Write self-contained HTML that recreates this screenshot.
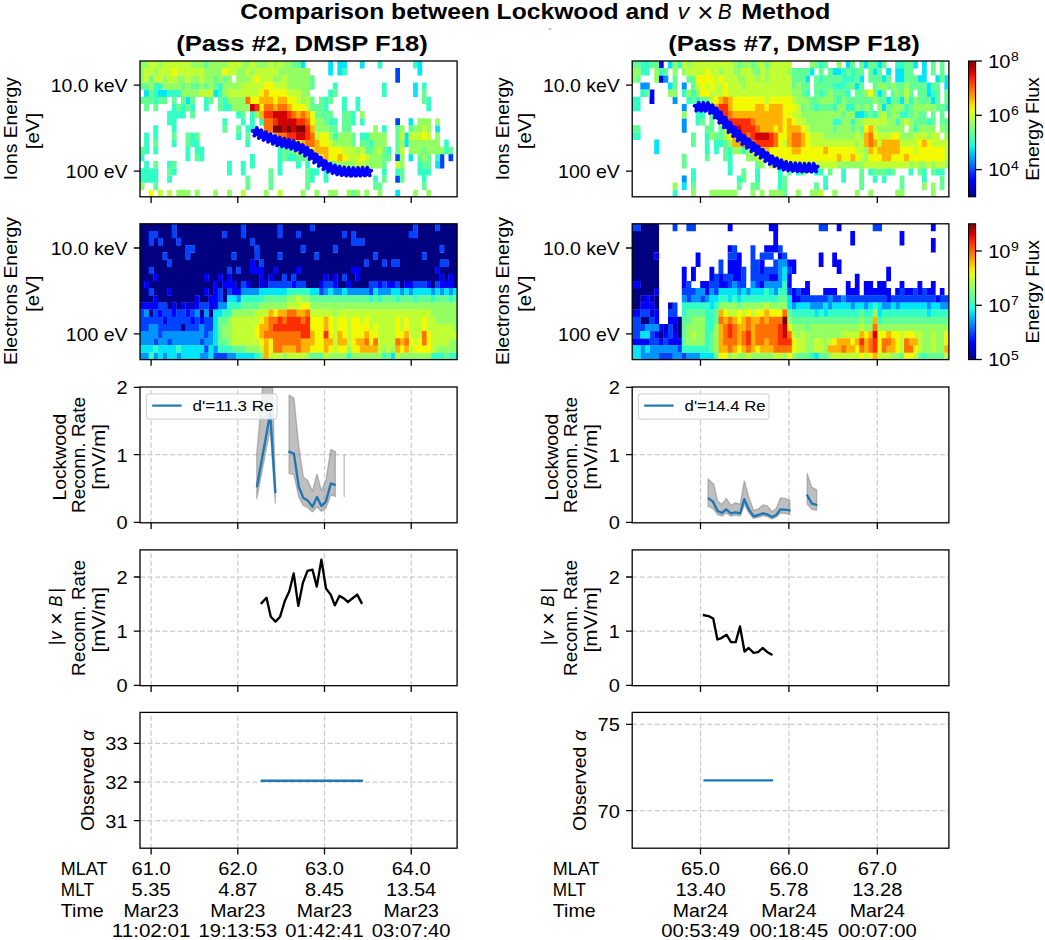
<!DOCTYPE html>
<html><head><meta charset="utf-8"><title>Comparison between Lockwood and v x B Method</title>
<style>html,body{margin:0;padding:0;background:#fff}svg{display:block}text{font-family:"Liberation Sans",sans-serif}</style></head><body>
<svg width="1045" height="940" viewBox="0 0 1045 940">
<defs>
<filter id="bl" x="-2%" y="-5%" width="104%" height="110%"><feGaussianBlur stdDeviation="0.6"/></filter>
<linearGradient id="jet" x1="0" y1="0" x2="0" y2="1"><stop offset="0.0000" stop-color="#800000"/><stop offset="0.0417" stop-color="#b00000"/><stop offset="0.0833" stop-color="#e00000"/><stop offset="0.1250" stop-color="#ff2100"/><stop offset="0.1667" stop-color="#ff4800"/><stop offset="0.2083" stop-color="#ff7000"/><stop offset="0.2500" stop-color="#ff9700"/><stop offset="0.2917" stop-color="#ffbe00"/><stop offset="0.3333" stop-color="#ffe600"/><stop offset="0.3750" stop-color="#e2ff15"/><stop offset="0.4167" stop-color="#c0ff37"/><stop offset="0.4583" stop-color="#9eff59"/><stop offset="0.5000" stop-color="#7bff7b"/><stop offset="0.5417" stop-color="#59ff9e"/><stop offset="0.5833" stop-color="#37ffc0"/><stop offset="0.6250" stop-color="#15ffe2"/><stop offset="0.6667" stop-color="#00d5ff"/><stop offset="0.7083" stop-color="#00aaff"/><stop offset="0.7500" stop-color="#0080ff"/><stop offset="0.7917" stop-color="#0055ff"/><stop offset="0.8333" stop-color="#002aff"/><stop offset="0.8750" stop-color="#0000ff"/><stop offset="0.9167" stop-color="#0000e0"/><stop offset="0.9583" stop-color="#0000b0"/><stop offset="1.0000" stop-color="#000080"/></linearGradient>
<clipPath id="cL0"><rect x="140.0" y="61.0" width="317.1" height="135.8"/></clipPath>
<clipPath id="cL1"><rect x="140.0" y="223.8" width="317.1" height="135.8"/></clipPath>
<clipPath id="cL2"><rect x="140.0" y="387.0" width="317.1" height="135.8"/></clipPath>
<clipPath id="cL3"><rect x="140.0" y="549.9" width="317.1" height="135.8"/></clipPath>
<clipPath id="cL4"><rect x="140.0" y="712.4" width="317.1" height="135.8"/></clipPath>
<clipPath id="cR0"><rect x="632.2" y="61.0" width="316.7" height="135.8"/></clipPath>
<clipPath id="cR1"><rect x="632.2" y="223.8" width="316.7" height="135.8"/></clipPath>
<clipPath id="cR2"><rect x="632.2" y="387.0" width="316.7" height="135.8"/></clipPath>
<clipPath id="cR3"><rect x="632.2" y="549.9" width="316.7" height="135.8"/></clipPath>
<clipPath id="cR4"><rect x="632.2" y="712.4" width="316.7" height="135.8"/></clipPath>
</defs>
<rect width="1045" height="940" fill="#fff"/>
<text x="240.30" y="19.30" font-size="22.26" text-anchor="start" textLength="429.00" lengthAdjust="spacingAndGlyphs" fill="#000" font-weight="bold">Comparison between Lockwood and</text>
<text x="677.62" y="19.30" font-size="22.26" font-style="italic" textLength="11.84" lengthAdjust="spacingAndGlyphs">v</text>
<text x="697.39" y="21.90" font-size="27.70" textLength="16.20" lengthAdjust="spacingAndGlyphs">×</text>
<text x="717.67" y="19.30" font-size="22.26" font-style="italic" textLength="13.94" lengthAdjust="spacingAndGlyphs">B</text>
<text x="741.20" y="19.30" font-size="22.26" text-anchor="start" textLength="89.20" lengthAdjust="spacingAndGlyphs" fill="#000" font-weight="bold">Method</text>
<rect x="548.5" y="28.6" width="3" height="1" fill="#999"/>
<text x="302.00" y="51.20" font-size="22.26" text-anchor="middle" textLength="251.50" lengthAdjust="spacingAndGlyphs" fill="#000" font-weight="bold">(Pass #2, DMSP F18)</text>
<text x="794.00" y="51.20" font-size="22.26" text-anchor="middle" textLength="251.50" lengthAdjust="spacingAndGlyphs" fill="#000" font-weight="bold">(Pass #7, DMSP F18)</text>
<g clip-path="url(#cL0)" filter="url(#bl)">
<path fill="#0042ff" d="M395.3 68.1h4.7v7.4h-4.7zM395.3 75.3h4.7v7.4h-4.7zM395.3 118.2h4.7v7.4h-4.7zM395.3 153.9h4.7v7.4h-4.7zM439.6 153.9h4.7v7.4h-4.7zM448.5 153.9h4.7v7.4h-4.7zM439.6 161.1h4.7v7.4h-4.7zM395.3 175.4h4.7v7.4h-4.7z"/>
<path fill="#00e5f7" d="M300.6 61.0h4.9v7.4h-4.9zM328.2 61.0h4.9v7.4h-4.9zM337.4 61.0h9.5v7.4h-9.5zM359.9 61.0h4.7v7.4h-4.7zM417.5 61.0h4.7v7.4h-4.7zM328.2 68.1h4.9v7.4h-4.9zM337.4 68.1h4.9v7.4h-4.9zM417.5 68.1h4.7v7.4h-4.7zM413.1 82.4h4.7v7.4h-4.7zM144.1 89.6h4.9v7.4h-4.9zM157.9 89.6h9.5v7.4h-9.5zM213.1 89.6h4.9v7.4h-4.9zM413.1 89.6h4.7v7.4h-4.7zM185.5 96.7h4.9v7.4h-4.9zM408.6 118.2h4.7v7.4h-4.7zM435.2 125.3h4.7v7.4h-4.7zM404.2 132.5h4.7v7.4h-4.7zM404.2 139.6h4.7v7.4h-4.7zM408.6 153.9h4.7v7.4h-4.7zM435.2 161.1h4.7v7.4h-4.7zM395.3 189.7h4.7v7.4h-4.7z"/>
<path fill="#31ffc5" d="M377.6 61.0h4.7v7.4h-4.7zM413.1 61.0h4.7v7.4h-4.7zM342.0 68.1h4.9v7.4h-4.9zM153.3 82.4h9.5v7.4h-9.5zM217.8 82.4h4.9v7.4h-4.9zM332.8 82.4h4.9v7.4h-4.9zM382.0 82.4h4.7v7.4h-4.7zM421.9 82.4h4.7v7.4h-4.7zM153.3 89.6h4.9v7.4h-4.9zM167.1 89.6h14.1v7.4h-14.1zM217.8 89.6h4.9v7.4h-4.9zM328.2 89.6h4.9v7.4h-4.9zM382.0 89.6h4.7v7.4h-4.7zM153.3 96.7h4.9v7.4h-4.9zM203.9 96.7h4.9v7.4h-4.9zM222.4 96.7h4.9v7.4h-4.9zM323.6 96.7h4.9v7.4h-4.9zM342.0 96.7h4.9v7.4h-4.9zM355.5 96.7h4.7v7.4h-4.7zM426.3 96.7h4.7v7.4h-4.7zM171.7 103.9h4.9v7.4h-4.9zM180.9 103.9h4.9v7.4h-4.9zM190.1 103.9h4.9v7.4h-4.9zM203.9 103.9h4.9v7.4h-4.9zM222.4 103.9h9.5v7.4h-9.5zM323.6 103.9h4.9v7.4h-4.9zM342.0 103.9h4.9v7.4h-4.9zM355.5 103.9h4.7v7.4h-4.7zM426.3 103.9h4.7v7.4h-4.7zM167.1 111.0h18.7v7.4h-18.7zM236.2 111.0h4.9v7.4h-4.9zM250.0 111.0h4.9v7.4h-4.9zM351.0 111.0h4.7v7.4h-4.7zM167.1 118.2h9.5v7.4h-9.5zM222.4 118.2h4.9v7.4h-4.9zM240.8 118.2h4.9v7.4h-4.9zM250.0 118.2h4.9v7.4h-4.9zM259.2 118.2h4.9v7.4h-4.9zM328.2 118.2h9.5v7.4h-9.5zM351.0 118.2h4.7v7.4h-4.7zM359.9 118.2h4.7v7.4h-4.7zM153.3 125.3h4.9v7.4h-4.9zM171.7 125.3h4.9v7.4h-4.9zM245.4 125.3h9.5v7.4h-9.5zM382.0 125.3h4.7v7.4h-4.7zM144.1 132.5h4.9v7.4h-4.9zM153.3 132.5h4.9v7.4h-4.9zM190.1 132.5h4.9v7.4h-4.9zM236.2 132.5h4.9v7.4h-4.9zM332.8 132.5h4.9v7.4h-4.9zM359.9 132.5h9.2v7.4h-9.2zM144.1 139.6h4.9v7.4h-4.9zM171.7 139.6h4.9v7.4h-4.9zM190.1 139.6h9.5v7.4h-9.5zM245.4 139.6h4.9v7.4h-4.9zM368.8 139.6h4.7v7.4h-4.7zM444.1 139.6h4.7v7.4h-4.7zM144.1 146.8h4.9v7.4h-4.9zM153.3 146.8h4.9v7.4h-4.9zM185.5 146.8h4.9v7.4h-4.9zM194.7 146.8h9.5v7.4h-9.5zM277.6 146.8h4.9v7.4h-4.9zM386.5 146.8h4.7v7.4h-4.7zM444.1 146.8h4.7v7.4h-4.7zM139.5 153.9h4.9v7.4h-4.9zM185.5 153.9h4.9v7.4h-4.9zM199.3 153.9h4.9v7.4h-4.9zM250.0 153.9h4.9v7.4h-4.9zM277.6 153.9h4.9v7.4h-4.9zM286.8 153.9h9.5v7.4h-9.5zM435.2 153.9h4.7v7.4h-4.7zM144.1 161.1h4.9v7.4h-4.9zM167.1 161.1h4.9v7.4h-4.9zM227.0 161.1h4.9v7.4h-4.9zM240.8 161.1h4.9v7.4h-4.9zM250.0 161.1h4.9v7.4h-4.9zM277.6 161.1h4.9v7.4h-4.9zM296.0 161.1h4.9v7.4h-4.9zM305.2 161.1h4.9v7.4h-4.9zM328.2 161.1h4.9v7.4h-4.9zM417.5 161.1h4.7v7.4h-4.7zM139.5 168.2h18.7v7.4h-18.7zM171.7 168.2h4.9v7.4h-4.9zM227.0 168.2h4.9v7.4h-4.9zM240.8 168.2h4.9v7.4h-4.9zM277.6 168.2h4.9v7.4h-4.9zM309.8 168.2h9.5v7.4h-9.5zM323.6 168.2h4.9v7.4h-4.9zM382.0 168.2h4.7v7.4h-4.7zM395.3 168.2h4.7v7.4h-4.7zM417.5 168.2h13.6v7.4h-13.6zM139.5 175.4h18.7v7.4h-18.7zM167.1 175.4h4.9v7.4h-4.9zM309.8 175.4h4.9v7.4h-4.9zM323.6 175.4h4.9v7.4h-4.9zM373.2 175.4h4.7v7.4h-4.7zM421.9 175.4h4.7v7.4h-4.7z"/>
<path fill="#63ff94" d="M203.9 61.0h4.9v7.4h-4.9zM291.4 61.0h9.5v7.4h-9.5zM148.7 75.3h4.9v7.4h-4.9zM213.1 75.3h4.9v7.4h-4.9zM222.4 75.3h4.9v7.4h-4.9zM309.8 75.3h4.9v7.4h-4.9zM139.5 82.4h9.5v7.4h-9.5zM180.9 82.4h4.9v7.4h-4.9zM190.1 82.4h9.5v7.4h-9.5zM203.9 82.4h4.9v7.4h-4.9zM213.1 82.4h4.9v7.4h-4.9zM309.8 82.4h4.9v7.4h-4.9zM148.7 89.6h4.9v7.4h-4.9zM332.8 89.6h4.9v7.4h-4.9zM421.9 89.6h4.7v7.4h-4.7zM139.5 96.7h14.1v7.4h-14.1zM157.9 96.7h9.5v7.4h-9.5zM171.7 96.7h4.9v7.4h-4.9zM180.9 96.7h4.9v7.4h-4.9zM190.1 96.7h4.9v7.4h-4.9zM208.5 96.7h4.9v7.4h-4.9zM217.8 96.7h4.9v7.4h-4.9zM309.8 96.7h4.9v7.4h-4.9zM319.0 96.7h4.9v7.4h-4.9zM328.2 96.7h4.9v7.4h-4.9zM421.9 96.7h4.7v7.4h-4.7zM144.1 103.9h4.9v7.4h-4.9zM153.3 103.9h4.9v7.4h-4.9zM176.3 103.9h4.9v7.4h-4.9zM185.5 103.9h4.9v7.4h-4.9zM217.8 103.9h4.9v7.4h-4.9zM309.8 103.9h14.1v7.4h-14.1zM190.1 111.0h4.9v7.4h-4.9zM240.8 111.0h4.9v7.4h-4.9zM314.4 111.0h18.7v7.4h-18.7zM342.0 111.0h9.3v7.4h-9.3zM323.6 118.2h4.9v7.4h-4.9zM342.0 118.2h9.3v7.4h-9.3zM222.4 125.3h4.9v7.4h-4.9zM236.2 125.3h4.9v7.4h-4.9zM328.2 125.3h9.5v7.4h-9.5zM342.0 125.3h9.3v7.4h-9.3zM395.3 125.3h4.7v7.4h-4.7zM408.6 125.3h4.7v7.4h-4.7zM171.7 132.5h4.9v7.4h-4.9zM185.5 132.5h4.9v7.4h-4.9zM194.7 132.5h4.9v7.4h-4.9zM245.4 132.5h4.9v7.4h-4.9zM351.0 132.5h4.7v7.4h-4.7zM395.3 132.5h4.7v7.4h-4.7zM153.3 139.6h4.9v7.4h-4.9zM185.5 139.6h4.9v7.4h-4.9zM351.0 139.6h4.7v7.4h-4.7zM359.9 139.6h9.2v7.4h-9.2zM395.3 139.6h4.7v7.4h-4.7zM139.5 146.8h4.9v7.4h-4.9zM282.2 146.8h14.1v7.4h-14.1zM364.3 146.8h9.2v7.4h-9.2zM382.0 146.8h4.7v7.4h-4.7zM395.3 146.8h4.7v7.4h-4.7zM421.9 146.8h4.7v7.4h-4.7zM448.5 146.8h4.7v7.4h-4.7zM194.7 153.9h4.9v7.4h-4.9zM282.2 153.9h4.9v7.4h-4.9zM296.0 153.9h9.5v7.4h-9.5zM382.0 153.9h9.2v7.4h-9.2zM417.5 153.9h4.7v7.4h-4.7zM426.3 153.9h4.7v7.4h-4.7zM153.3 161.1h4.9v7.4h-4.9zM171.7 161.1h4.9v7.4h-4.9zM382.0 161.1h4.7v7.4h-4.7zM421.9 161.1h9.2v7.4h-9.2zM167.1 168.2h4.9v7.4h-4.9zM268.4 168.2h4.9v7.4h-4.9zM305.2 168.2h4.9v7.4h-4.9zM399.8 168.2h4.7v7.4h-4.7zM245.4 175.4h4.9v7.4h-4.9zM268.4 175.4h4.9v7.4h-4.9zM305.2 175.4h4.9v7.4h-4.9zM382.0 175.4h4.7v7.4h-4.7zM399.8 175.4h4.7v7.4h-4.7zM153.3 182.5h4.9v7.4h-4.9zM245.4 182.5h4.9v7.4h-4.9zM268.4 182.5h4.9v7.4h-4.9zM305.2 182.5h4.9v7.4h-4.9zM373.2 182.5h9.2v7.4h-9.2zM421.9 182.5h4.7v7.4h-4.7zM351.0 189.7h4.7v7.4h-4.7z"/>
<path fill="#94ff63" d="M139.5 61.0h9.5v7.4h-9.5zM157.9 61.0h4.9v7.4h-4.9zM190.1 61.0h14.1v7.4h-14.1zM208.5 61.0h18.7v7.4h-18.7zM240.8 61.0h9.5v7.4h-9.5zM254.6 61.0h14.1v7.4h-14.1zM273.0 61.0h4.9v7.4h-4.9zM282.2 61.0h9.5v7.4h-9.5zM139.5 68.1h4.9v7.4h-4.9zM153.3 68.1h4.9v7.4h-4.9zM203.9 68.1h18.7v7.4h-18.7zM236.2 68.1h9.5v7.4h-9.5zM250.0 68.1h4.9v7.4h-4.9zM277.6 68.1h32.5v7.4h-32.5zM139.5 75.3h4.9v7.4h-4.9zM162.5 75.3h4.9v7.4h-4.9zM176.3 75.3h9.5v7.4h-9.5zM190.1 75.3h9.5v7.4h-9.5zM203.9 75.3h9.5v7.4h-9.5zM217.8 75.3h4.9v7.4h-4.9zM227.0 75.3h4.9v7.4h-4.9zM236.2 75.3h14.1v7.4h-14.1zM273.0 75.3h9.5v7.4h-9.5zM286.8 75.3h23.3v7.4h-23.3zM148.7 82.4h4.9v7.4h-4.9zM162.5 82.4h18.7v7.4h-18.7zM185.5 82.4h4.9v7.4h-4.9zM199.3 82.4h4.9v7.4h-4.9zM208.5 82.4h4.9v7.4h-4.9zM222.4 82.4h18.7v7.4h-18.7zM286.8 82.4h23.3v7.4h-23.3zM180.9 89.6h18.7v7.4h-18.7zM222.4 89.6h4.9v7.4h-4.9zM300.6 89.6h9.5v7.4h-9.5zM227.0 96.7h18.7v7.4h-18.7zM300.6 96.7h4.9v7.4h-4.9zM231.6 103.9h18.7v7.4h-18.7zM254.6 111.0h4.9v7.4h-4.9zM359.9 111.0h4.7v7.4h-4.7zM314.4 118.2h9.5v7.4h-9.5zM417.5 118.2h13.6v7.4h-13.6zM435.2 118.2h4.7v7.4h-4.7zM314.4 125.3h14.1v7.4h-14.1zM373.2 125.3h4.7v7.4h-4.7zM399.8 125.3h4.7v7.4h-4.7zM413.1 125.3h9.2v7.4h-9.2zM426.3 125.3h4.7v7.4h-4.7zM328.2 132.5h4.9v7.4h-4.9zM337.4 132.5h13.9v7.4h-13.9zM368.8 132.5h18.0v7.4h-18.0zM435.2 132.5h4.7v7.4h-4.7zM332.8 139.6h18.5v7.4h-18.5zM373.2 139.6h13.6v7.4h-13.6zM399.8 139.6h4.7v7.4h-4.7zM408.6 139.6h31.3v7.4h-31.3zM355.5 146.8h4.7v7.4h-4.7zM373.2 146.8h4.7v7.4h-4.7zM408.6 146.8h13.6v7.4h-13.6zM426.3 146.8h18.0v7.4h-18.0zM305.2 153.9h4.9v7.4h-4.9zM368.8 153.9h13.6v7.4h-13.6zM399.8 153.9h4.7v7.4h-4.7zM421.9 153.9h4.7v7.4h-4.7zM332.8 161.1h22.9v7.4h-22.9zM364.3 161.1h18.0v7.4h-18.0zM399.8 161.1h4.7v7.4h-4.7zM139.5 182.5h4.9v7.4h-4.9zM176.3 189.7h14.1v7.4h-14.1zM194.7 189.7h4.9v7.4h-4.9zM213.1 189.7h4.9v7.4h-4.9zM227.0 189.7h4.9v7.4h-4.9zM263.8 189.7h4.9v7.4h-4.9zM300.6 189.7h4.9v7.4h-4.9zM314.4 189.7h4.9v7.4h-4.9zM328.2 189.7h9.5v7.4h-9.5zM346.6 189.7h4.7v7.4h-4.7zM355.5 189.7h4.7v7.4h-4.7zM364.3 189.7h4.7v7.4h-4.7zM377.6 189.7h4.7v7.4h-4.7zM413.1 189.7h4.7v7.4h-4.7zM426.3 189.7h4.7v7.4h-4.7z"/>
<path fill="#c1ff35" d="M148.7 61.0h9.5v7.4h-9.5zM162.5 61.0h27.9v7.4h-27.9zM227.0 61.0h14.1v7.4h-14.1zM250.0 61.0h4.9v7.4h-4.9zM268.4 61.0h4.9v7.4h-4.9zM277.6 61.0h4.9v7.4h-4.9zM144.1 68.1h9.5v7.4h-9.5zM157.9 68.1h14.1v7.4h-14.1zM176.3 68.1h27.9v7.4h-27.9zM227.0 68.1h9.5v7.4h-9.5zM245.4 68.1h4.9v7.4h-4.9zM254.6 68.1h23.3v7.4h-23.3zM144.1 75.3h4.9v7.4h-4.9zM153.3 75.3h9.5v7.4h-9.5zM167.1 75.3h9.5v7.4h-9.5zM185.5 75.3h4.9v7.4h-4.9zM199.3 75.3h4.9v7.4h-4.9zM250.0 75.3h4.9v7.4h-4.9zM259.2 75.3h14.1v7.4h-14.1zM282.2 75.3h4.9v7.4h-4.9zM240.8 82.4h23.3v7.4h-23.3zM273.0 82.4h14.1v7.4h-14.1zM199.3 89.6h14.1v7.4h-14.1zM227.0 89.6h32.5v7.4h-32.5zM286.8 89.6h14.1v7.4h-14.1zM296.0 96.7h4.9v7.4h-4.9zM305.2 96.7h4.9v7.4h-4.9zM305.2 103.9h4.9v7.4h-4.9zM421.9 125.3h4.7v7.4h-4.7zM314.4 132.5h4.9v7.4h-4.9zM399.8 132.5h4.7v7.4h-4.7zM408.6 132.5h13.6v7.4h-13.6zM426.3 132.5h4.7v7.4h-4.7zM273.0 139.6h4.9v7.4h-4.9zM286.8 139.6h4.9v7.4h-4.9zM328.2 139.6h4.9v7.4h-4.9zM296.0 146.8h4.9v7.4h-4.9zM342.0 146.8h13.7v7.4h-13.7zM359.9 146.8h4.7v7.4h-4.7zM377.6 146.8h4.7v7.4h-4.7zM399.8 146.8h4.7v7.4h-4.7zM309.8 153.9h9.5v7.4h-9.5zM346.6 153.9h13.6v7.4h-13.6zM364.3 153.9h4.7v7.4h-4.7zM355.5 161.1h9.2v7.4h-9.2zM395.3 161.1h4.7v7.4h-4.7zM157.9 189.7h4.9v7.4h-4.9zM167.1 189.7h4.9v7.4h-4.9zM240.8 189.7h4.9v7.4h-4.9zM277.6 189.7h4.9v7.4h-4.9z"/>
<path fill="#f3fa04" d="M171.7 68.1h4.9v7.4h-4.9zM222.4 68.1h4.9v7.4h-4.9zM254.6 75.3h4.9v7.4h-4.9zM263.8 82.4h9.5v7.4h-9.5zM259.2 89.6h4.9v7.4h-4.9zM268.4 89.6h18.7v7.4h-18.7zM250.0 96.7h9.5v7.4h-9.5zM273.0 96.7h4.9v7.4h-4.9zM286.8 96.7h9.5v7.4h-9.5zM259.2 103.9h4.9v7.4h-4.9zM291.4 103.9h14.1v7.4h-14.1zM309.8 111.0h4.9v7.4h-4.9zM309.8 118.2h4.9v7.4h-4.9zM319.0 132.5h9.5v7.4h-9.5zM421.9 132.5h4.7v7.4h-4.7zM291.4 139.6h9.5v7.4h-9.5zM319.0 139.6h9.5v7.4h-9.5zM300.6 146.8h14.1v7.4h-14.1zM328.2 146.8h14.1v7.4h-14.1zM319.0 153.9h4.9v7.4h-4.9zM328.2 153.9h9.5v7.4h-9.5zM342.0 153.9h4.9v7.4h-4.9zM359.9 153.9h4.7v7.4h-4.7zM148.7 189.7h4.9v7.4h-4.9z"/>
<path fill="#ffb300" d="M263.8 89.6h4.9v7.4h-4.9zM259.2 96.7h14.1v7.4h-14.1zM277.6 96.7h9.5v7.4h-9.5zM273.0 103.9h4.9v7.4h-4.9zM286.8 103.9h4.9v7.4h-4.9zM259.2 111.0h4.9v7.4h-4.9zM296.0 111.0h4.9v7.4h-4.9zM305.2 111.0h4.9v7.4h-4.9zM309.8 125.3h4.9v7.4h-4.9zM273.0 132.5h4.9v7.4h-4.9zM300.6 139.6h4.9v7.4h-4.9zM314.4 139.6h4.9v7.4h-4.9zM314.4 146.8h14.1v7.4h-14.1zM323.6 153.9h4.9v7.4h-4.9zM337.4 153.9h4.9v7.4h-4.9z"/>
<path fill="#ff7100" d="M245.4 96.7h4.9v7.4h-4.9zM263.8 103.9h9.5v7.4h-9.5zM277.6 103.9h9.5v7.4h-9.5zM291.4 111.0h4.9v7.4h-4.9zM300.6 111.0h4.9v7.4h-4.9zM263.8 118.2h9.5v7.4h-9.5zM305.2 118.2h4.9v7.4h-4.9zM263.8 125.3h9.5v7.4h-9.5zM277.6 132.5h9.5v7.4h-9.5zM309.8 132.5h4.9v7.4h-4.9zM305.2 139.6h9.5v7.4h-9.5z"/>
<path fill="#ff2f00" d="M254.6 103.9h4.9v7.4h-4.9zM263.8 111.0h9.5v7.4h-9.5zM286.8 111.0h4.9v7.4h-4.9zM273.0 118.2h4.9v7.4h-4.9zM296.0 118.2h9.5v7.4h-9.5zM305.2 125.3h4.9v7.4h-4.9zM286.8 132.5h9.5v7.4h-9.5zM305.2 132.5h4.9v7.4h-4.9z"/>
<path fill="#d10000" d="M250.0 103.9h4.9v7.4h-4.9zM273.0 111.0h14.1v7.4h-14.1zM277.6 118.2h18.7v7.4h-18.7zM282.2 125.3h4.9v7.4h-4.9zM291.4 125.3h4.9v7.4h-4.9zM296.0 132.5h9.5v7.4h-9.5z"/>
<path fill="#800000" d="M273.0 125.3h9.5v7.4h-9.5zM286.8 125.3h4.9v7.4h-4.9zM296.0 125.3h9.5v7.4h-9.5z"/>
</g>
<g clip-path="url(#cL1)" filter="url(#bl)">
<path fill="#000080" d="M139.5 223.8h32.5v7.4h-32.5zM176.3 223.8h64.7v7.4h-64.7zM245.4 223.8h32.5v7.4h-32.5zM282.2 223.8h27.9v7.4h-27.9zM314.4 223.8h98.9v7.4h-98.9zM417.5 223.8h18.0v7.4h-18.0zM439.6 223.8h18.0v7.4h-18.0zM139.5 230.9h9.5v7.4h-9.5zM157.9 230.9h14.1v7.4h-14.1zM176.3 230.9h46.3v7.4h-46.3zM227.0 230.9h14.1v7.4h-14.1zM245.4 230.9h32.5v7.4h-32.5zM282.2 230.9h14.1v7.4h-14.1zM300.6 230.9h41.7v7.4h-41.7zM346.6 230.9h4.7v7.4h-4.7zM355.5 230.9h53.5v7.4h-53.5zM417.5 230.9h40.2v7.4h-40.2zM139.5 238.1h9.5v7.4h-9.5zM153.3 238.1h4.9v7.4h-4.9zM162.5 238.1h14.1v7.4h-14.1zM180.9 238.1h69.3v7.4h-69.3zM254.6 238.1h96.8v7.4h-96.8zM364.3 238.1h93.3v7.4h-93.3zM139.5 245.2h46.3v7.4h-46.3zM194.7 245.2h60.1v7.4h-60.1zM259.2 245.2h41.7v7.4h-41.7zM305.2 245.2h27.9v7.4h-27.9zM337.4 245.2h102.5v7.4h-102.5zM444.1 245.2h13.6v7.4h-13.6zM139.5 252.4h23.3v7.4h-23.3zM167.1 252.4h18.7v7.4h-18.7zM190.1 252.4h41.7v7.4h-41.7zM236.2 252.4h18.7v7.4h-18.7zM259.2 252.4h18.7v7.4h-18.7zM282.2 252.4h32.5v7.4h-32.5zM319.0 252.4h54.5v7.4h-54.5zM377.6 252.4h44.6v7.4h-44.6zM426.3 252.4h31.3v7.4h-31.3zM139.5 259.5h27.9v7.4h-27.9zM171.7 259.5h78.6v7.4h-78.6zM254.6 259.5h4.9v7.4h-4.9zM263.8 259.5h100.8v7.4h-100.8zM368.8 259.5h13.6v7.4h-13.6zM386.5 259.5h4.7v7.4h-4.7zM399.8 259.5h40.2v7.4h-40.2zM448.5 259.5h9.2v7.4h-9.2zM139.5 266.7h9.5v7.4h-9.5zM153.3 266.7h73.9v7.4h-73.9zM231.6 266.7h4.9v7.4h-4.9zM240.8 266.7h9.5v7.4h-9.5zM263.8 266.7h9.5v7.4h-9.5zM277.6 266.7h18.7v7.4h-18.7zM300.6 266.7h50.7v7.4h-50.7zM359.9 266.7h75.6v7.4h-75.6zM439.6 266.7h18.0v7.4h-18.0zM139.5 273.8h14.1v7.4h-14.1zM157.9 273.8h46.3v7.4h-46.3zM208.5 273.8h9.5v7.4h-9.5zM222.4 273.8h4.9v7.4h-4.9zM231.6 273.8h27.9v7.4h-27.9zM263.8 273.8h4.9v7.4h-4.9zM273.0 273.8h9.5v7.4h-9.5zM286.8 273.8h4.9v7.4h-4.9zM296.0 273.8h27.9v7.4h-27.9zM328.2 273.8h4.9v7.4h-4.9zM337.4 273.8h4.9v7.4h-4.9zM346.6 273.8h9.1v7.4h-9.1zM359.9 273.8h80.0v7.4h-80.0zM444.1 273.8h4.7v7.4h-4.7zM452.9 273.8h4.7v7.4h-4.7zM139.5 281.0h4.9v7.4h-4.9zM148.7 281.0h64.7v7.4h-64.7zM217.8 281.0h4.9v7.4h-4.9zM236.2 281.0h4.9v7.4h-4.9zM250.0 281.0h9.5v7.4h-9.5zM305.2 281.0h14.1v7.4h-14.1zM337.4 281.0h9.5v7.4h-9.5zM351.0 281.0h18.0v7.4h-18.0zM399.8 281.0h4.7v7.4h-4.7zM430.8 281.0h4.7v7.4h-4.7zM452.9 281.0h4.7v7.4h-4.7zM139.5 288.1h9.5v7.4h-9.5zM153.3 288.1h14.1v7.4h-14.1zM171.7 288.1h32.5v7.4h-32.5zM208.5 288.1h4.9v7.4h-4.9zM222.4 288.1h4.9v7.4h-4.9zM139.5 295.3h14.1v7.4h-14.1zM157.9 295.3h37.1v7.4h-37.1zM199.3 295.3h9.5v7.4h-9.5zM222.4 295.3h4.9v7.4h-4.9zM167.1 302.4h4.9v7.4h-4.9zM176.3 302.4h4.9v7.4h-4.9zM148.7 309.6h4.9v7.4h-4.9zM199.3 309.6h4.9v7.4h-4.9zM208.5 309.6h4.9v7.4h-4.9zM180.9 323.9h4.9v7.4h-4.9z"/>
<path fill="#0000c5" d="M263.8 281.0h4.9v7.4h-4.9zM185.5 302.4h9.5v7.4h-9.5z"/>
<path fill="#0000ff" d="M250.0 259.5h4.9v7.4h-4.9zM250.0 266.7h14.1v7.4h-14.1zM273.0 266.7h4.9v7.4h-4.9zM296.0 266.7h4.9v7.4h-4.9zM351.0 266.7h9.2v7.4h-9.2zM435.2 266.7h4.7v7.4h-4.7zM153.3 273.8h4.9v7.4h-4.9zM203.9 273.8h4.9v7.4h-4.9zM217.8 273.8h4.9v7.4h-4.9zM227.0 273.8h4.9v7.4h-4.9zM259.2 273.8h4.9v7.4h-4.9zM268.4 273.8h4.9v7.4h-4.9zM323.6 273.8h4.9v7.4h-4.9zM332.8 273.8h4.9v7.4h-4.9zM355.5 273.8h4.7v7.4h-4.7zM439.6 273.8h4.7v7.4h-4.7zM448.5 273.8h4.7v7.4h-4.7zM144.1 281.0h4.9v7.4h-4.9zM213.1 281.0h4.9v7.4h-4.9zM222.4 281.0h14.1v7.4h-14.1zM245.4 281.0h4.9v7.4h-4.9zM259.2 281.0h4.9v7.4h-4.9zM291.4 281.0h4.9v7.4h-4.9zM319.0 281.0h4.9v7.4h-4.9zM332.8 281.0h4.9v7.4h-4.9zM346.6 281.0h4.7v7.4h-4.7zM377.6 281.0h4.7v7.4h-4.7zM386.5 281.0h9.2v7.4h-9.2zM404.2 281.0h9.2v7.4h-9.2zM426.3 281.0h4.7v7.4h-4.7zM439.6 281.0h13.6v7.4h-13.6zM167.1 288.1h4.9v7.4h-4.9zM203.9 288.1h4.9v7.4h-4.9zM213.1 288.1h4.9v7.4h-4.9zM231.6 288.1h9.5v7.4h-9.5zM153.3 295.3h4.9v7.4h-4.9zM194.7 295.3h4.9v7.4h-4.9zM208.5 295.3h9.5v7.4h-9.5zM139.5 302.4h18.7v7.4h-18.7zM171.7 302.4h4.9v7.4h-4.9zM180.9 302.4h4.9v7.4h-4.9zM194.7 302.4h4.9v7.4h-4.9zM208.5 302.4h9.5v7.4h-9.5zM157.9 309.6h4.9v7.4h-4.9zM171.7 309.6h4.9v7.4h-4.9zM185.5 309.6h4.9v7.4h-4.9zM162.5 316.7h4.9v7.4h-4.9zM190.1 316.7h4.9v7.4h-4.9zM199.3 316.7h4.9v7.4h-4.9z"/>
<path fill="#0042ff" d="M171.7 223.8h4.9v7.4h-4.9zM240.8 223.8h4.9v7.4h-4.9zM277.6 223.8h4.9v7.4h-4.9zM309.8 223.8h4.9v7.4h-4.9zM413.1 223.8h4.7v7.4h-4.7zM435.2 223.8h4.7v7.4h-4.7zM148.7 230.9h9.5v7.4h-9.5zM171.7 230.9h4.9v7.4h-4.9zM222.4 230.9h4.9v7.4h-4.9zM240.8 230.9h4.9v7.4h-4.9zM277.6 230.9h4.9v7.4h-4.9zM296.0 230.9h4.9v7.4h-4.9zM342.0 230.9h4.9v7.4h-4.9zM351.0 230.9h4.7v7.4h-4.7zM408.6 230.9h9.2v7.4h-9.2zM148.7 238.1h4.9v7.4h-4.9zM157.9 238.1h4.9v7.4h-4.9zM176.3 238.1h4.9v7.4h-4.9zM250.0 238.1h4.9v7.4h-4.9zM351.0 238.1h13.6v7.4h-13.6zM185.5 245.2h9.5v7.4h-9.5zM254.6 245.2h4.9v7.4h-4.9zM300.6 245.2h4.9v7.4h-4.9zM332.8 245.2h4.9v7.4h-4.9zM439.6 245.2h4.7v7.4h-4.7zM162.5 252.4h4.9v7.4h-4.9zM185.5 252.4h4.9v7.4h-4.9zM231.6 252.4h4.9v7.4h-4.9zM254.6 252.4h4.9v7.4h-4.9zM277.6 252.4h4.9v7.4h-4.9zM314.4 252.4h4.9v7.4h-4.9zM373.2 252.4h4.7v7.4h-4.7zM421.9 252.4h4.7v7.4h-4.7zM167.1 259.5h4.9v7.4h-4.9zM259.2 259.5h4.9v7.4h-4.9zM364.3 259.5h4.7v7.4h-4.7zM382.0 259.5h4.7v7.4h-4.7zM390.9 259.5h9.2v7.4h-9.2zM439.6 259.5h9.2v7.4h-9.2zM148.7 266.7h4.9v7.4h-4.9zM227.0 266.7h4.9v7.4h-4.9zM236.2 266.7h4.9v7.4h-4.9zM282.2 273.8h4.9v7.4h-4.9zM291.4 273.8h4.9v7.4h-4.9zM342.0 273.8h4.9v7.4h-4.9zM240.8 281.0h4.9v7.4h-4.9zM268.4 281.0h23.3v7.4h-23.3zM296.0 281.0h9.5v7.4h-9.5zM323.6 281.0h9.5v7.4h-9.5zM368.8 281.0h9.2v7.4h-9.2zM382.0 281.0h4.7v7.4h-4.7zM395.3 281.0h4.7v7.4h-4.7zM413.1 281.0h13.6v7.4h-13.6zM435.2 281.0h4.7v7.4h-4.7zM148.7 288.1h4.9v7.4h-4.9zM217.8 288.1h4.9v7.4h-4.9zM227.0 288.1h4.9v7.4h-4.9zM319.0 288.1h4.9v7.4h-4.9zM368.8 288.1h4.7v7.4h-4.7zM217.8 295.3h4.9v7.4h-4.9zM157.9 302.4h9.5v7.4h-9.5zM199.3 302.4h9.5v7.4h-9.5zM139.5 309.6h4.9v7.4h-4.9zM153.3 309.6h4.9v7.4h-4.9zM162.5 309.6h9.5v7.4h-9.5zM176.3 309.6h9.5v7.4h-9.5zM190.1 309.6h4.9v7.4h-4.9zM139.5 316.7h23.3v7.4h-23.3zM167.1 316.7h23.3v7.4h-23.3zM194.7 316.7h4.9v7.4h-4.9zM203.9 316.7h9.5v7.4h-9.5zM139.5 323.9h9.5v7.4h-9.5zM157.9 323.9h23.3v7.4h-23.3zM185.5 323.9h14.1v7.4h-14.1zM203.9 323.9h9.5v7.4h-9.5zM157.9 331.0h4.9v7.4h-4.9zM203.9 331.0h4.9v7.4h-4.9zM153.3 338.2h4.9v7.4h-4.9zM167.1 338.2h4.9v7.4h-4.9zM199.3 338.2h4.9v7.4h-4.9zM203.9 345.3h4.9v7.4h-4.9zM213.1 352.5h14.1v7.4h-14.1z"/>
<path fill="#0094ff" d="M240.8 288.1h18.7v7.4h-18.7zM323.6 288.1h4.9v7.4h-4.9zM332.8 288.1h9.5v7.4h-9.5zM346.6 288.1h22.4v7.4h-22.4zM377.6 288.1h13.6v7.4h-13.6zM399.8 288.1h4.7v7.4h-4.7zM408.6 288.1h4.7v7.4h-4.7zM430.8 288.1h4.7v7.4h-4.7zM439.6 288.1h4.7v7.4h-4.7zM448.5 288.1h4.7v7.4h-4.7zM236.2 295.3h4.9v7.4h-4.9zM217.8 302.4h9.5v7.4h-9.5zM144.1 309.6h4.9v7.4h-4.9zM194.7 309.6h4.9v7.4h-4.9zM203.9 309.6h4.9v7.4h-4.9zM148.7 323.9h9.5v7.4h-9.5zM199.3 323.9h4.9v7.4h-4.9zM139.5 331.0h18.7v7.4h-18.7zM162.5 331.0h41.7v7.4h-41.7zM208.5 331.0h4.9v7.4h-4.9zM139.5 338.2h14.1v7.4h-14.1zM157.9 338.2h9.5v7.4h-9.5zM171.7 338.2h27.9v7.4h-27.9zM203.9 338.2h9.5v7.4h-9.5zM213.1 345.3h4.9v7.4h-4.9zM139.5 352.5h9.5v7.4h-9.5zM153.3 352.5h4.9v7.4h-4.9zM162.5 352.5h4.9v7.4h-4.9zM176.3 352.5h4.9v7.4h-4.9zM199.3 352.5h9.5v7.4h-9.5zM227.0 352.5h9.5v7.4h-9.5z"/>
<path fill="#00e5f7" d="M259.2 288.1h27.9v7.4h-27.9zM309.8 288.1h9.5v7.4h-9.5zM328.2 288.1h4.9v7.4h-4.9zM342.0 288.1h4.9v7.4h-4.9zM373.2 288.1h4.7v7.4h-4.7zM390.9 288.1h9.2v7.4h-9.2zM404.2 288.1h4.7v7.4h-4.7zM413.1 288.1h18.0v7.4h-18.0zM435.2 288.1h4.7v7.4h-4.7zM444.1 288.1h4.7v7.4h-4.7zM452.9 288.1h4.7v7.4h-4.7zM227.0 295.3h9.5v7.4h-9.5zM213.1 309.6h9.5v7.4h-9.5zM213.1 316.7h4.9v7.4h-4.9zM213.1 323.9h4.9v7.4h-4.9zM213.1 331.0h4.9v7.4h-4.9zM213.1 338.2h4.9v7.4h-4.9zM139.5 345.3h14.1v7.4h-14.1zM157.9 345.3h18.7v7.4h-18.7zM180.9 345.3h23.3v7.4h-23.3zM208.5 345.3h4.9v7.4h-4.9zM157.9 352.5h4.9v7.4h-4.9zM167.1 352.5h9.5v7.4h-9.5zM180.9 352.5h18.7v7.4h-18.7zM208.5 352.5h4.9v7.4h-4.9zM236.2 352.5h18.7v7.4h-18.7zM390.9 352.5h4.7v7.4h-4.7z"/>
<path fill="#31ffc5" d="M286.8 288.1h23.3v7.4h-23.3zM240.8 295.3h23.3v7.4h-23.3zM368.8 295.3h4.7v7.4h-4.7zM377.6 295.3h4.7v7.4h-4.7zM395.3 295.3h4.7v7.4h-4.7zM413.1 295.3h4.7v7.4h-4.7zM430.8 295.3h4.7v7.4h-4.7zM448.5 295.3h4.7v7.4h-4.7zM227.0 302.4h14.1v7.4h-14.1zM222.4 309.6h9.5v7.4h-9.5zM153.3 345.3h4.9v7.4h-4.9zM176.3 345.3h4.9v7.4h-4.9zM217.8 345.3h14.1v7.4h-14.1zM148.7 352.5h4.9v7.4h-4.9zM254.6 352.5h4.9v7.4h-4.9zM346.6 352.5h4.7v7.4h-4.7zM382.0 352.5h4.7v7.4h-4.7zM430.8 352.5h13.6v7.4h-13.6zM448.5 352.5h9.2v7.4h-9.2z"/>
<path fill="#63ff94" d="M263.8 295.3h23.3v7.4h-23.3zM309.8 295.3h59.2v7.4h-59.2zM373.2 295.3h4.7v7.4h-4.7zM382.0 295.3h13.6v7.4h-13.6zM399.8 295.3h13.6v7.4h-13.6zM417.5 295.3h13.6v7.4h-13.6zM435.2 295.3h13.6v7.4h-13.6zM452.9 295.3h4.7v7.4h-4.7zM240.8 302.4h18.7v7.4h-18.7zM217.8 316.7h9.5v7.4h-9.5zM217.8 323.9h4.9v7.4h-4.9zM217.8 331.0h4.9v7.4h-4.9zM217.8 338.2h9.5v7.4h-9.5zM231.6 345.3h14.1v7.4h-14.1zM259.2 352.5h4.9v7.4h-4.9zM309.8 352.5h14.1v7.4h-14.1zM386.5 352.5h4.7v7.4h-4.7zM444.1 352.5h4.7v7.4h-4.7z"/>
<path fill="#94ff63" d="M286.8 295.3h9.5v7.4h-9.5zM300.6 295.3h9.5v7.4h-9.5zM259.2 302.4h27.9v7.4h-27.9zM309.8 302.4h147.8v7.4h-147.8zM231.6 309.6h23.3v7.4h-23.3zM332.8 309.6h4.9v7.4h-4.9zM430.8 309.6h26.9v7.4h-26.9zM227.0 316.7h4.9v7.4h-4.9zM435.2 316.7h22.4v7.4h-22.4zM222.4 323.9h9.5v7.4h-9.5zM452.9 323.9h4.7v7.4h-4.7zM222.4 331.0h9.5v7.4h-9.5zM227.0 338.2h4.9v7.4h-4.9zM448.5 338.2h9.2v7.4h-9.2zM245.4 345.3h14.1v7.4h-14.1zM346.6 345.3h4.7v7.4h-4.7zM382.0 345.3h4.7v7.4h-4.7zM390.9 345.3h4.7v7.4h-4.7zM435.2 345.3h22.4v7.4h-22.4zM282.2 352.5h4.9v7.4h-4.9zM305.2 352.5h4.9v7.4h-4.9zM328.2 352.5h18.7v7.4h-18.7zM351.0 352.5h31.3v7.4h-31.3zM399.8 352.5h31.3v7.4h-31.3z"/>
<path fill="#c1ff35" d="M296.0 295.3h4.9v7.4h-4.9zM286.8 302.4h14.1v7.4h-14.1zM254.6 309.6h14.1v7.4h-14.1zM309.8 309.6h23.3v7.4h-23.3zM337.4 309.6h93.6v7.4h-93.6zM231.6 316.7h27.9v7.4h-27.9zM332.8 316.7h4.9v7.4h-4.9zM346.6 316.7h4.7v7.4h-4.7zM359.9 316.7h4.7v7.4h-4.7zM368.8 316.7h26.9v7.4h-26.9zM399.8 316.7h4.7v7.4h-4.7zM408.6 316.7h13.6v7.4h-13.6zM426.3 316.7h9.2v7.4h-9.2zM231.6 323.9h23.3v7.4h-23.3zM332.8 323.9h4.9v7.4h-4.9zM346.6 323.9h4.7v7.4h-4.7zM368.8 323.9h4.7v7.4h-4.7zM377.6 323.9h18.0v7.4h-18.0zM399.8 323.9h4.7v7.4h-4.7zM408.6 323.9h13.6v7.4h-13.6zM426.3 323.9h26.9v7.4h-26.9zM231.6 331.0h23.3v7.4h-23.3zM332.8 331.0h4.9v7.4h-4.9zM346.6 331.0h4.7v7.4h-4.7zM377.6 331.0h18.0v7.4h-18.0zM408.6 331.0h13.6v7.4h-13.6zM430.8 331.0h26.9v7.4h-26.9zM231.6 338.2h27.9v7.4h-27.9zM332.8 338.2h4.9v7.4h-4.9zM346.6 338.2h4.7v7.4h-4.7zM377.6 338.2h18.0v7.4h-18.0zM413.1 338.2h4.7v7.4h-4.7zM430.8 338.2h18.0v7.4h-18.0zM259.2 345.3h4.9v7.4h-4.9zM332.8 345.3h4.9v7.4h-4.9zM377.6 345.3h4.7v7.4h-4.7zM386.5 345.3h4.7v7.4h-4.7zM408.6 345.3h4.7v7.4h-4.7zM430.8 345.3h4.7v7.4h-4.7zM268.4 352.5h14.1v7.4h-14.1zM286.8 352.5h18.7v7.4h-18.7zM323.6 352.5h4.9v7.4h-4.9zM395.3 352.5h4.7v7.4h-4.7z"/>
<path fill="#f3fa04" d="M300.6 302.4h9.5v7.4h-9.5zM273.0 309.6h4.9v7.4h-4.9zM259.2 316.7h4.9v7.4h-4.9zM309.8 316.7h14.1v7.4h-14.1zM328.2 316.7h4.9v7.4h-4.9zM337.4 316.7h9.5v7.4h-9.5zM351.0 316.7h9.2v7.4h-9.2zM364.3 316.7h4.7v7.4h-4.7zM395.3 316.7h4.7v7.4h-4.7zM404.2 316.7h4.7v7.4h-4.7zM421.9 316.7h4.7v7.4h-4.7zM254.6 323.9h4.9v7.4h-4.9zM309.8 323.9h14.1v7.4h-14.1zM328.2 323.9h4.9v7.4h-4.9zM337.4 323.9h9.5v7.4h-9.5zM351.0 323.9h18.0v7.4h-18.0zM373.2 323.9h4.7v7.4h-4.7zM395.3 323.9h4.7v7.4h-4.7zM404.2 323.9h4.7v7.4h-4.7zM421.9 323.9h4.7v7.4h-4.7zM254.6 331.0h4.9v7.4h-4.9zM314.4 331.0h9.5v7.4h-9.5zM328.2 331.0h4.9v7.4h-4.9zM342.0 331.0h4.9v7.4h-4.9zM351.0 331.0h13.6v7.4h-13.6zM368.8 331.0h9.2v7.4h-9.2zM395.3 331.0h9.2v7.4h-9.2zM426.3 331.0h4.7v7.4h-4.7zM259.2 338.2h4.9v7.4h-4.9zM268.4 338.2h4.9v7.4h-4.9zM314.4 338.2h9.5v7.4h-9.5zM351.0 338.2h4.7v7.4h-4.7zM368.8 338.2h4.7v7.4h-4.7zM408.6 338.2h4.7v7.4h-4.7zM417.5 338.2h4.7v7.4h-4.7zM426.3 338.2h4.7v7.4h-4.7zM268.4 345.3h4.9v7.4h-4.9zM309.8 345.3h14.1v7.4h-14.1zM328.2 345.3h4.9v7.4h-4.9zM337.4 345.3h9.5v7.4h-9.5zM351.0 345.3h9.2v7.4h-9.2zM399.8 345.3h4.7v7.4h-4.7zM413.1 345.3h18.0v7.4h-18.0z"/>
<path fill="#ffb300" d="M268.4 309.6h4.9v7.4h-4.9zM277.6 309.6h9.5v7.4h-9.5zM296.0 309.6h9.5v7.4h-9.5zM263.8 316.7h4.9v7.4h-4.9zM323.6 316.7h4.9v7.4h-4.9zM259.2 323.9h9.5v7.4h-9.5zM323.6 323.9h4.9v7.4h-4.9zM259.2 331.0h4.9v7.4h-4.9zM309.8 331.0h4.9v7.4h-4.9zM337.4 331.0h4.9v7.4h-4.9zM364.3 331.0h4.7v7.4h-4.7zM404.2 331.0h4.7v7.4h-4.7zM263.8 338.2h4.9v7.4h-4.9zM300.6 338.2h14.1v7.4h-14.1zM323.6 338.2h9.5v7.4h-9.5zM337.4 338.2h9.5v7.4h-9.5zM355.5 338.2h9.2v7.4h-9.2zM399.8 338.2h4.7v7.4h-4.7zM263.8 345.3h4.9v7.4h-4.9zM282.2 345.3h14.1v7.4h-14.1zM300.6 345.3h9.5v7.4h-9.5zM323.6 345.3h4.9v7.4h-4.9zM359.9 345.3h18.0v7.4h-18.0zM395.3 345.3h4.7v7.4h-4.7zM404.2 345.3h4.7v7.4h-4.7zM263.8 352.5h4.9v7.4h-4.9z"/>
<path fill="#ff7100" d="M286.8 309.6h9.5v7.4h-9.5zM305.2 309.6h4.9v7.4h-4.9zM268.4 316.7h9.5v7.4h-9.5zM282.2 316.7h4.9v7.4h-4.9zM300.6 316.7h4.9v7.4h-4.9zM268.4 323.9h4.9v7.4h-4.9zM263.8 331.0h37.1v7.4h-37.1zM421.9 331.0h4.7v7.4h-4.7zM273.0 338.2h27.9v7.4h-27.9zM364.3 338.2h4.7v7.4h-4.7zM373.2 338.2h4.7v7.4h-4.7zM395.3 338.2h4.7v7.4h-4.7zM404.2 338.2h4.7v7.4h-4.7zM421.9 338.2h4.7v7.4h-4.7zM273.0 345.3h9.5v7.4h-9.5zM296.0 345.3h4.9v7.4h-4.9z"/>
<path fill="#ff2f00" d="M277.6 316.7h4.9v7.4h-4.9zM286.8 316.7h14.1v7.4h-14.1zM305.2 316.7h4.9v7.4h-4.9zM273.0 323.9h37.1v7.4h-37.1zM300.6 331.0h9.5v7.4h-9.5zM323.6 331.0h4.9v7.4h-4.9z"/>
</g>
<g clip-path="url(#cR0)" filter="url(#bl)">
<path fill="#0000ff" d="M658.8 61.0h4.9v7.4h-4.9zM658.8 75.3h4.9v7.4h-4.9zM649.5 89.6h4.9v7.4h-4.9zM649.5 96.7h4.9v7.4h-4.9z"/>
<path fill="#0094ff" d="M663.4 75.3h4.9v7.4h-4.9zM640.3 82.4h9.5v7.4h-9.5zM681.8 82.4h4.9v7.4h-4.9zM672.6 96.7h4.9v7.4h-4.9zM681.8 103.9h4.9v7.4h-4.9zM681.8 118.2h4.9v7.4h-4.9zM681.8 125.3h4.9v7.4h-4.9zM681.8 175.4h4.9v7.4h-4.9z"/>
<path fill="#00e5f7" d="M668.0 61.0h4.9v7.4h-4.9zM845.8 61.0h4.8v7.4h-4.8zM863.8 61.0h4.8v7.4h-4.8zM877.2 61.0h4.8v7.4h-4.8zM913.1 61.0h4.8v7.4h-4.8zM922.0 61.0h4.8v7.4h-4.8zM809.6 68.1h4.8v7.4h-4.8zM832.2 68.1h9.3v7.4h-9.3zM872.7 68.1h4.8v7.4h-4.8zM886.2 68.1h4.8v7.4h-4.8zM895.2 68.1h9.3v7.4h-9.3zM922.0 68.1h4.8v7.4h-4.8zM805.1 75.3h4.8v7.4h-4.8zM859.3 75.3h4.8v7.4h-4.8zM881.7 75.3h4.8v7.4h-4.8zM895.2 75.3h9.3v7.4h-9.3zM917.5 75.3h9.2v7.4h-9.2zM935.4 75.3h4.8v7.4h-4.8zM944.3 75.3h4.7v7.4h-4.7zM668.0 82.4h4.9v7.4h-4.9zM854.8 82.4h4.8v7.4h-4.8zM926.4 82.4h4.8v7.4h-4.8zM944.3 82.4h4.7v7.4h-4.7zM877.2 89.6h4.8v7.4h-4.8zM926.4 89.6h4.8v7.4h-4.8zM886.2 96.7h4.8v7.4h-4.8zM899.6 96.7h4.8v7.4h-4.8zM930.9 96.7h4.8v7.4h-4.8zM881.7 103.9h4.8v7.4h-4.8zM854.8 111.0h9.3v7.4h-9.3zM654.2 139.6h4.9v7.4h-4.9zM654.2 146.8h4.9v7.4h-4.9zM681.8 182.5h4.9v7.4h-4.9z"/>
<path fill="#31ffc5" d="M640.3 61.0h9.5v7.4h-9.5zM677.2 61.0h4.9v7.4h-4.9zM818.7 61.0h4.8v7.4h-4.8zM895.2 61.0h9.3v7.4h-9.3zM640.3 68.1h9.5v7.4h-9.5zM658.8 68.1h4.9v7.4h-4.9zM841.2 68.1h4.8v7.4h-4.8zM850.3 68.1h4.8v7.4h-4.8zM818.7 75.3h4.8v7.4h-4.8zM841.2 75.3h13.8v7.4h-13.8zM832.2 82.4h13.8v7.4h-13.8zM640.3 89.6h4.9v7.4h-4.9zM681.8 89.6h4.9v7.4h-4.9zM691.0 89.6h4.9v7.4h-4.9zM805.1 89.6h4.8v7.4h-4.8zM818.7 89.6h4.8v7.4h-4.8zM845.8 89.6h4.8v7.4h-4.8zM930.9 89.6h4.8v7.4h-4.8zM631.0 96.7h9.6v7.4h-9.6zM686.4 96.7h4.9v7.4h-4.9zM695.6 96.7h4.9v7.4h-4.9zM836.7 96.7h4.8v7.4h-4.8zM908.6 96.7h4.8v7.4h-4.8zM631.0 103.9h9.6v7.4h-9.6zM814.1 103.9h4.8v7.4h-4.8zM832.2 103.9h4.8v7.4h-4.8zM845.8 103.9h9.3v7.4h-9.3zM904.1 103.9h4.8v7.4h-4.8zM944.3 103.9h4.7v7.4h-4.7zM695.6 111.0h9.5v7.4h-9.5zM863.8 111.0h4.8v7.4h-4.8zM872.7 111.0h4.8v7.4h-4.8zM899.6 111.0h9.2v7.4h-9.2zM695.6 118.2h4.9v7.4h-4.9zM832.2 118.2h9.3v7.4h-9.3zM850.3 118.2h4.8v7.4h-4.8zM895.2 118.2h4.8v7.4h-4.8zM926.4 118.2h4.8v7.4h-4.8zM913.1 125.3h4.8v7.4h-4.8zM631.0 132.5h9.6v7.4h-9.6zM704.8 132.5h4.9v7.4h-4.9zM704.8 139.6h4.9v7.4h-4.9zM714.0 139.6h9.5v7.4h-9.5zM704.8 146.8h4.9v7.4h-4.9zM714.0 146.8h4.9v7.4h-4.9zM727.7 146.8h4.9v7.4h-4.9zM741.4 146.8h4.9v7.4h-4.9zM727.7 153.9h4.9v7.4h-4.9zM727.7 161.1h4.9v7.4h-4.9zM691.0 168.2h4.9v7.4h-4.9zM727.7 168.2h4.9v7.4h-4.9zM755.1 168.2h4.9v7.4h-4.9zM777.9 168.2h4.8v7.4h-4.8zM796.0 168.2h4.8v7.4h-4.8zM814.1 168.2h9.3v7.4h-9.3zM841.2 168.2h4.8v7.4h-4.8zM868.3 168.2h4.8v7.4h-4.8zM886.2 168.2h4.8v7.4h-4.8zM908.6 168.2h4.8v7.4h-4.8zM922.0 168.2h4.8v7.4h-4.8zM935.4 168.2h9.2v7.4h-9.2zM691.0 175.4h4.9v7.4h-4.9zM736.8 175.4h4.9v7.4h-4.9zM755.1 175.4h4.9v7.4h-4.9zM777.9 175.4h4.8v7.4h-4.8zM823.2 175.4h4.8v7.4h-4.8zM841.2 175.4h4.8v7.4h-4.8zM872.7 175.4h4.8v7.4h-4.8zM881.7 175.4h4.8v7.4h-4.8zM922.0 175.4h4.8v7.4h-4.8zM777.9 182.5h4.8v7.4h-4.8zM823.2 182.5h4.8v7.4h-4.8zM672.6 189.7h4.9v7.4h-4.9z"/>
<path fill="#63ff94" d="M631.0 61.0h9.6v7.4h-9.6zM649.5 61.0h9.5v7.4h-9.5zM736.8 61.0h4.9v7.4h-4.9zM750.5 61.0h4.9v7.4h-4.9zM764.2 61.0h4.9v7.4h-4.9zM814.1 61.0h4.8v7.4h-4.8zM823.2 61.0h4.8v7.4h-4.8zM850.3 61.0h4.8v7.4h-4.8zM859.3 61.0h4.8v7.4h-4.8zM868.3 61.0h9.3v7.4h-9.3zM881.7 61.0h4.8v7.4h-4.8zM904.1 61.0h9.2v7.4h-9.2zM930.9 61.0h4.8v7.4h-4.8zM939.8 61.0h4.7v7.4h-4.7zM663.4 68.1h4.9v7.4h-4.9zM755.1 68.1h4.9v7.4h-4.9zM791.5 68.1h18.4v7.4h-18.4zM818.7 68.1h4.8v7.4h-4.8zM827.7 68.1h4.8v7.4h-4.8zM845.8 68.1h4.8v7.4h-4.8zM854.8 68.1h9.3v7.4h-9.3zM868.3 68.1h4.8v7.4h-4.8zM877.2 68.1h4.8v7.4h-4.8zM904.1 68.1h9.2v7.4h-9.2zM930.9 68.1h4.8v7.4h-4.8zM939.8 68.1h4.7v7.4h-4.7zM635.7 75.3h4.9v7.4h-4.9zM672.6 75.3h4.9v7.4h-4.9zM686.4 75.3h9.5v7.4h-9.5zM791.5 75.3h13.9v7.4h-13.9zM814.1 75.3h4.8v7.4h-4.8zM823.2 75.3h18.4v7.4h-18.4zM854.8 75.3h4.8v7.4h-4.8zM868.3 75.3h13.8v7.4h-13.8zM886.2 75.3h4.8v7.4h-4.8zM904.1 75.3h13.7v7.4h-13.7zM939.8 75.3h4.7v7.4h-4.7zM672.6 82.4h4.9v7.4h-4.9zM691.0 82.4h4.9v7.4h-4.9zM791.5 82.4h4.8v7.4h-4.8zM800.6 82.4h9.4v7.4h-9.4zM814.1 82.4h18.4v7.4h-18.4zM845.8 82.4h9.3v7.4h-9.3zM859.3 82.4h4.8v7.4h-4.8zM872.7 82.4h4.8v7.4h-4.8zM886.2 82.4h4.8v7.4h-4.8zM895.2 82.4h9.3v7.4h-9.3zM908.6 82.4h18.2v7.4h-18.2zM930.9 82.4h9.2v7.4h-9.2zM644.9 89.6h4.9v7.4h-4.9zM800.6 89.6h4.8v7.4h-4.8zM814.1 89.6h4.8v7.4h-4.8zM823.2 89.6h4.8v7.4h-4.8zM832.2 89.6h13.8v7.4h-13.8zM854.8 89.6h9.3v7.4h-9.3zM872.7 89.6h4.8v7.4h-4.8zM881.7 89.6h4.8v7.4h-4.8zM890.7 89.6h4.8v7.4h-4.8zM899.6 89.6h4.8v7.4h-4.8zM908.6 89.6h4.8v7.4h-4.8zM917.5 89.6h9.2v7.4h-9.2zM935.4 89.6h4.8v7.4h-4.8zM944.3 89.6h4.7v7.4h-4.7zM691.0 96.7h4.9v7.4h-4.9zM700.2 96.7h9.5v7.4h-9.5zM809.6 96.7h9.4v7.4h-9.4zM832.2 96.7h4.8v7.4h-4.8zM845.8 96.7h27.3v7.4h-27.3zM877.2 96.7h9.3v7.4h-9.3zM890.7 96.7h9.3v7.4h-9.3zM917.5 96.7h13.7v7.4h-13.7zM935.4 96.7h4.8v7.4h-4.8zM944.3 96.7h4.7v7.4h-4.7zM800.6 103.9h4.8v7.4h-4.8zM809.6 103.9h4.8v7.4h-4.8zM818.7 103.9h13.9v7.4h-13.9zM859.3 103.9h4.8v7.4h-4.8zM868.3 103.9h4.8v7.4h-4.8zM886.2 103.9h4.8v7.4h-4.8zM908.6 103.9h4.8v7.4h-4.8zM935.4 103.9h9.2v7.4h-9.2zM709.4 111.0h4.9v7.4h-4.9zM841.2 111.0h4.8v7.4h-4.8zM868.3 111.0h4.8v7.4h-4.8zM886.2 111.0h4.8v7.4h-4.8zM908.6 111.0h4.8v7.4h-4.8zM917.5 111.0h9.2v7.4h-9.2zM930.9 111.0h4.8v7.4h-4.8zM939.8 111.0h4.7v7.4h-4.7zM700.2 118.2h4.9v7.4h-4.9zM709.4 118.2h4.9v7.4h-4.9zM913.1 118.2h13.7v7.4h-13.7zM930.9 118.2h4.8v7.4h-4.8zM939.8 118.2h9.2v7.4h-9.2zM631.0 125.3h9.6v7.4h-9.6zM704.8 125.3h9.5v7.4h-9.5zM718.5 125.3h4.9v7.4h-4.9zM832.2 125.3h4.8v7.4h-4.8zM850.3 125.3h4.8v7.4h-4.8zM859.3 125.3h4.8v7.4h-4.8zM944.3 125.3h4.7v7.4h-4.7zM691.0 132.5h4.9v7.4h-4.9zM714.0 132.5h9.5v7.4h-9.5zM691.0 139.6h4.9v7.4h-4.9zM723.1 139.6h4.9v7.4h-4.9zM723.1 146.8h4.9v7.4h-4.9zM681.8 153.9h4.9v7.4h-4.9zM704.8 153.9h4.9v7.4h-4.9zM723.1 153.9h4.9v7.4h-4.9zM681.8 161.1h4.9v7.4h-4.9zM755.1 161.1h4.9v7.4h-4.9zM741.4 168.2h4.9v7.4h-4.9zM786.9 168.2h4.8v7.4h-4.8zM800.6 168.2h4.8v7.4h-4.8zM827.7 168.2h4.8v7.4h-4.8zM859.3 168.2h4.8v7.4h-4.8zM872.7 168.2h13.8v7.4h-13.8zM890.7 168.2h4.8v7.4h-4.8zM917.5 168.2h4.8v7.4h-4.8zM930.9 168.2h4.8v7.4h-4.8zM741.4 175.4h4.9v7.4h-4.9zM782.4 175.4h4.8v7.4h-4.8zM859.3 175.4h4.8v7.4h-4.8zM899.6 175.4h4.8v7.4h-4.8zM939.8 175.4h4.7v7.4h-4.7zM691.0 182.5h4.9v7.4h-4.9zM736.8 182.5h4.9v7.4h-4.9zM750.5 182.5h9.4v7.4h-9.4zM782.4 182.5h4.8v7.4h-4.8zM814.1 182.5h4.8v7.4h-4.8zM859.3 182.5h4.8v7.4h-4.8zM899.6 182.5h4.8v7.4h-4.8zM939.8 182.5h4.7v7.4h-4.7zM782.4 189.7h4.8v7.4h-4.8z"/>
<path fill="#94ff63" d="M672.6 61.0h4.9v7.4h-4.9zM686.4 61.0h4.9v7.4h-4.9zM732.3 61.0h4.9v7.4h-4.9zM741.4 61.0h9.4v7.4h-9.4zM755.1 61.0h4.9v7.4h-4.9zM809.6 61.0h4.8v7.4h-4.8zM836.7 61.0h4.8v7.4h-4.8zM631.0 68.1h9.6v7.4h-9.6zM654.2 68.1h4.9v7.4h-4.9zM672.6 68.1h4.9v7.4h-4.9zM681.8 68.1h4.9v7.4h-4.9zM718.5 68.1h4.9v7.4h-4.9zM732.3 68.1h9.4v7.4h-9.4zM750.5 68.1h4.9v7.4h-4.9zM764.2 68.1h4.9v7.4h-4.9zM786.9 68.1h4.8v7.4h-4.8zM631.0 75.3h4.9v7.4h-4.9zM654.2 75.3h4.9v7.4h-4.9zM736.8 75.3h9.4v7.4h-9.4zM755.1 75.3h4.9v7.4h-4.9zM764.2 75.3h4.9v7.4h-4.9zM741.4 82.4h4.9v7.4h-4.9zM796.0 82.4h4.8v7.4h-4.8zM877.2 82.4h9.3v7.4h-9.3zM890.7 82.4h4.8v7.4h-4.8zM904.1 82.4h4.8v7.4h-4.8zM668.0 89.6h9.5v7.4h-9.5zM686.4 89.6h4.9v7.4h-4.9zM695.6 89.6h4.9v7.4h-4.9zM791.5 89.6h9.4v7.4h-9.4zM827.7 89.6h4.8v7.4h-4.8zM863.8 89.6h4.8v7.4h-4.8zM895.2 89.6h4.8v7.4h-4.8zM796.0 96.7h13.9v7.4h-13.9zM818.7 96.7h13.9v7.4h-13.9zM841.2 96.7h4.8v7.4h-4.8zM872.7 96.7h4.8v7.4h-4.8zM904.1 96.7h4.8v7.4h-4.8zM913.1 96.7h4.8v7.4h-4.8zM695.6 103.9h4.9v7.4h-4.9zM704.8 103.9h4.9v7.4h-4.9zM805.1 103.9h4.8v7.4h-4.8zM836.7 103.9h9.3v7.4h-9.3zM854.8 103.9h4.8v7.4h-4.8zM863.8 103.9h4.8v7.4h-4.8zM877.2 103.9h4.8v7.4h-4.8zM890.7 103.9h13.7v7.4h-13.7zM913.1 103.9h22.6v7.4h-22.6zM681.8 111.0h4.9v7.4h-4.9zM800.6 111.0h41.0v7.4h-41.0zM845.8 111.0h9.3v7.4h-9.3zM877.2 111.0h4.8v7.4h-4.8zM890.7 111.0h9.3v7.4h-9.3zM913.1 111.0h4.8v7.4h-4.8zM805.1 118.2h27.4v7.4h-27.4zM841.2 118.2h9.3v7.4h-9.3zM854.8 118.2h9.3v7.4h-9.3zM886.2 118.2h9.3v7.4h-9.3zM899.6 118.2h4.8v7.4h-4.8zM908.6 118.2h4.8v7.4h-4.8zM809.6 125.3h22.9v7.4h-22.9zM836.7 125.3h13.8v7.4h-13.8zM854.8 125.3h4.8v7.4h-4.8zM877.2 125.3h27.2v7.4h-27.2zM908.6 125.3h4.8v7.4h-4.8zM917.5 125.3h18.1v7.4h-18.1zM939.8 125.3h4.7v7.4h-4.7zM709.4 132.5h4.9v7.4h-4.9zM723.1 132.5h4.9v7.4h-4.9zM823.2 132.5h31.9v7.4h-31.9zM859.3 132.5h4.8v7.4h-4.8zM899.6 132.5h13.7v7.4h-13.7zM926.4 132.5h4.8v7.4h-4.8zM944.3 132.5h4.7v7.4h-4.7zM727.7 139.6h4.9v7.4h-4.9zM854.8 139.6h4.8v7.4h-4.8zM732.3 146.8h9.4v7.4h-9.4zM746.0 146.8h4.9v7.4h-4.9zM863.8 146.8h4.8v7.4h-4.8zM746.0 153.9h9.4v7.4h-9.4zM863.8 153.9h4.8v7.4h-4.8zM759.7 161.1h4.9v7.4h-4.9zM836.7 161.1h27.3v7.4h-27.3zM908.6 161.1h4.8v7.4h-4.8zM917.5 161.1h9.2v7.4h-9.2zM930.9 161.1h4.8v7.4h-4.8zM944.3 161.1h4.7v7.4h-4.7zM672.6 182.5h4.9v7.4h-4.9zM922.0 182.5h4.8v7.4h-4.8zM930.9 182.5h4.8v7.4h-4.8zM691.0 189.7h4.9v7.4h-4.9zM709.4 189.7h27.8v7.4h-27.8zM750.5 189.7h4.9v7.4h-4.9zM759.7 189.7h4.9v7.4h-4.9zM768.8 189.7h13.9v7.4h-13.9zM796.0 189.7h4.8v7.4h-4.8zM809.6 189.7h9.4v7.4h-9.4zM832.2 189.7h4.8v7.4h-4.8zM854.8 189.7h4.8v7.4h-4.8zM868.3 189.7h4.8v7.4h-4.8zM895.2 189.7h9.3v7.4h-9.3zM930.9 189.7h4.8v7.4h-4.8z"/>
<path fill="#c1ff35" d="M681.8 61.0h4.9v7.4h-4.9zM691.0 61.0h41.6v7.4h-41.6zM759.7 61.0h4.9v7.4h-4.9zM768.8 61.0h23.0v7.4h-23.0zM686.4 68.1h18.7v7.4h-18.7zM709.4 68.1h9.5v7.4h-9.5zM723.1 68.1h9.5v7.4h-9.5zM741.4 68.1h9.4v7.4h-9.4zM759.7 68.1h4.9v7.4h-4.9zM768.8 68.1h18.5v7.4h-18.5zM714.0 75.3h4.9v7.4h-4.9zM723.1 75.3h14.0v7.4h-14.0zM746.0 75.3h9.4v7.4h-9.4zM759.7 75.3h4.9v7.4h-4.9zM768.8 75.3h23.0v7.4h-23.0zM695.6 82.4h4.9v7.4h-4.9zM704.8 82.4h4.9v7.4h-4.9zM714.0 82.4h9.5v7.4h-9.5zM727.7 82.4h14.0v7.4h-14.0zM746.0 82.4h45.8v7.4h-45.8zM709.4 89.6h14.0v7.4h-14.0zM727.7 89.6h64.1v7.4h-64.1zM904.1 89.6h4.8v7.4h-4.8zM709.4 96.7h4.9v7.4h-4.9zM764.2 96.7h4.9v7.4h-4.9zM791.5 96.7h4.8v7.4h-4.8zM700.2 103.9h4.9v7.4h-4.9zM709.4 103.9h4.9v7.4h-4.9zM796.0 103.9h4.8v7.4h-4.8zM791.5 111.0h9.4v7.4h-9.4zM881.7 111.0h4.8v7.4h-4.8zM718.5 118.2h4.9v7.4h-4.9zM796.0 118.2h9.4v7.4h-9.4zM863.8 118.2h22.7v7.4h-22.7zM904.1 118.2h4.8v7.4h-4.8zM723.1 125.3h4.9v7.4h-4.9zM805.1 125.3h4.8v7.4h-4.8zM872.7 125.3h4.8v7.4h-4.8zM809.6 132.5h13.9v7.4h-13.9zM854.8 132.5h4.8v7.4h-4.8zM877.2 132.5h13.8v7.4h-13.8zM913.1 132.5h13.7v7.4h-13.7zM930.9 132.5h9.2v7.4h-9.2zM782.4 139.6h4.8v7.4h-4.8zM809.6 139.6h45.4v7.4h-45.4zM859.3 139.6h4.8v7.4h-4.8zM877.2 139.6h4.8v7.4h-4.8zM899.6 139.6h18.2v7.4h-18.2zM930.9 139.6h18.1v7.4h-18.1zM854.8 146.8h9.3v7.4h-9.3zM913.1 146.8h4.8v7.4h-4.8zM944.3 146.8h4.7v7.4h-4.7zM755.1 153.9h9.4v7.4h-9.4zM859.3 153.9h4.8v7.4h-4.8zM944.3 153.9h4.7v7.4h-4.7zM768.8 161.1h68.3v7.4h-68.3zM863.8 161.1h45.1v7.4h-45.1zM913.1 161.1h4.8v7.4h-4.8zM926.4 161.1h4.8v7.4h-4.8zM935.4 161.1h9.2v7.4h-9.2zM818.7 189.7h4.8v7.4h-4.8z"/>
<path fill="#f3fa04" d="M704.8 68.1h4.9v7.4h-4.9zM695.6 75.3h18.7v7.4h-18.7zM718.5 75.3h4.9v7.4h-4.9zM700.2 82.4h4.9v7.4h-4.9zM709.4 82.4h4.9v7.4h-4.9zM723.1 82.4h4.9v7.4h-4.9zM700.2 89.6h9.5v7.4h-9.5zM723.1 89.6h4.9v7.4h-4.9zM868.3 89.6h4.8v7.4h-4.8zM714.0 96.7h4.9v7.4h-4.9zM732.3 96.7h32.2v7.4h-32.2zM768.8 96.7h23.0v7.4h-23.0zM732.3 103.9h23.1v7.4h-23.1zM764.2 103.9h4.9v7.4h-4.9zM782.4 103.9h13.9v7.4h-13.9zM782.4 111.0h9.4v7.4h-9.4zM782.4 118.2h4.8v7.4h-4.8zM791.5 118.2h4.8v7.4h-4.8zM773.3 125.3h4.8v7.4h-4.8zM782.4 125.3h4.8v7.4h-4.8zM800.6 125.3h4.8v7.4h-4.8zM863.8 125.3h4.8v7.4h-4.8zM727.7 132.5h4.9v7.4h-4.9zM777.9 132.5h9.4v7.4h-9.4zM805.1 132.5h4.8v7.4h-4.8zM872.7 132.5h4.8v7.4h-4.8zM890.7 132.5h9.3v7.4h-9.3zM777.9 139.6h4.8v7.4h-4.8zM805.1 139.6h4.8v7.4h-4.8zM917.5 139.6h4.8v7.4h-4.8zM926.4 139.6h4.8v7.4h-4.8zM750.5 146.8h9.4v7.4h-9.4zM768.8 146.8h23.0v7.4h-23.0zM800.6 146.8h22.9v7.4h-22.9zM827.7 146.8h27.4v7.4h-27.4zM872.7 146.8h4.8v7.4h-4.8zM899.6 146.8h13.7v7.4h-13.7zM917.5 146.8h27.0v7.4h-27.0zM764.2 153.9h72.8v7.4h-72.8zM841.2 153.9h9.3v7.4h-9.3zM854.8 153.9h4.8v7.4h-4.8zM868.3 153.9h13.8v7.4h-13.8zM890.7 153.9h13.7v7.4h-13.7zM908.6 153.9h36.0v7.4h-36.0z"/>
<path fill="#ffb300" d="M718.5 96.7h4.9v7.4h-4.9zM727.7 96.7h4.9v7.4h-4.9zM714.0 103.9h4.9v7.4h-4.9zM727.7 103.9h4.9v7.4h-4.9zM755.1 103.9h9.4v7.4h-9.4zM768.8 103.9h13.9v7.4h-13.9zM714.0 111.0h4.9v7.4h-4.9zM732.3 111.0h50.4v7.4h-50.4zM755.1 118.2h27.6v7.4h-27.6zM786.9 118.2h4.8v7.4h-4.8zM727.7 125.3h4.9v7.4h-4.9zM759.7 125.3h14.0v7.4h-14.0zM777.9 125.3h4.8v7.4h-4.8zM786.9 125.3h13.9v7.4h-13.9zM868.3 125.3h4.8v7.4h-4.8zM732.3 132.5h4.9v7.4h-4.9zM786.9 132.5h4.8v7.4h-4.8zM800.6 132.5h4.8v7.4h-4.8zM863.8 132.5h4.8v7.4h-4.8zM732.3 139.6h9.4v7.4h-9.4zM786.9 139.6h4.8v7.4h-4.8zM800.6 139.6h4.8v7.4h-4.8zM863.8 139.6h4.8v7.4h-4.8zM872.7 139.6h4.8v7.4h-4.8zM881.7 139.6h18.2v7.4h-18.2zM922.0 139.6h4.8v7.4h-4.8zM759.7 146.8h9.4v7.4h-9.4zM791.5 146.8h9.4v7.4h-9.4zM823.2 146.8h4.8v7.4h-4.8zM868.3 146.8h4.8v7.4h-4.8zM877.2 146.8h22.7v7.4h-22.7zM836.7 153.9h4.8v7.4h-4.8zM850.3 153.9h4.8v7.4h-4.8zM881.7 153.9h9.3v7.4h-9.3zM904.1 153.9h4.8v7.4h-4.8z"/>
<path fill="#ff7100" d="M723.1 96.7h4.9v7.4h-4.9zM718.5 111.0h4.9v7.4h-4.9zM727.7 111.0h4.9v7.4h-4.9zM723.1 118.2h4.9v7.4h-4.9zM750.5 118.2h4.9v7.4h-4.9zM755.1 125.3h4.9v7.4h-4.9zM736.8 132.5h4.9v7.4h-4.9zM746.0 132.5h4.9v7.4h-4.9zM773.3 132.5h4.8v7.4h-4.8zM791.5 132.5h9.4v7.4h-9.4zM868.3 132.5h4.8v7.4h-4.8zM741.4 139.6h14.0v7.4h-14.0zM773.3 139.6h4.8v7.4h-4.8zM791.5 139.6h9.4v7.4h-9.4zM868.3 139.6h4.8v7.4h-4.8z"/>
<path fill="#ff2f00" d="M718.5 103.9h9.5v7.4h-9.5zM723.1 111.0h4.9v7.4h-4.9zM727.7 118.2h23.1v7.4h-23.1zM732.3 125.3h4.9v7.4h-4.9zM741.4 125.3h14.0v7.4h-14.0zM741.4 132.5h4.9v7.4h-4.9zM750.5 132.5h4.9v7.4h-4.9zM768.8 132.5h4.9v7.4h-4.9zM755.1 139.6h18.5v7.4h-18.5z"/>
<path fill="#d10000" d="M736.8 125.3h4.9v7.4h-4.9zM755.1 132.5h14.0v7.4h-14.0z"/>
</g>
<g clip-path="url(#cR1)" filter="url(#bl)">
<path fill="#000080" d="M640.3 223.8h18.8v7.4h-18.8zM631.0 230.9h28.0v7.4h-28.0zM631.0 238.1h28.0v7.4h-28.0zM631.0 245.2h28.0v7.4h-28.0zM631.0 252.4h23.4v7.4h-23.4zM631.0 259.5h28.0v7.4h-28.0zM631.0 266.7h28.0v7.4h-28.0zM631.0 273.8h28.0v7.4h-28.0zM640.3 281.0h18.8v7.4h-18.8zM631.0 288.1h23.4v7.4h-23.4zM631.0 295.3h9.6v7.4h-9.6zM654.2 295.3h4.9v7.4h-4.9zM631.0 302.4h9.6v7.4h-9.6zM654.2 302.4h4.9v7.4h-4.9zM640.3 316.7h9.5v7.4h-9.5zM677.2 316.7h4.9v7.4h-4.9zM677.2 323.9h4.9v7.4h-4.9zM658.8 331.0h4.9v7.4h-4.9zM677.2 331.0h4.9v7.4h-4.9z"/>
<path fill="#0000c5" d="M640.3 295.3h4.9v7.4h-4.9zM649.5 295.3h4.9v7.4h-4.9zM668.0 302.4h4.9v7.4h-4.9zM649.5 309.6h4.9v7.4h-4.9zM663.4 323.9h4.9v7.4h-4.9zM672.6 323.9h4.9v7.4h-4.9z"/>
<path fill="#0000ff" d="M727.7 223.8h4.9v7.4h-4.9zM768.8 223.8h9.4v7.4h-9.4zM836.7 223.8h4.8v7.4h-4.8zM930.9 223.8h4.8v7.4h-4.8zM773.3 230.9h4.8v7.4h-4.8zM850.3 230.9h4.8v7.4h-4.8zM899.6 230.9h4.8v7.4h-4.8zM773.3 238.1h4.8v7.4h-4.8zM850.3 238.1h4.8v7.4h-4.8zM899.6 238.1h4.8v7.4h-4.8zM930.9 238.1h4.8v7.4h-4.8zM727.7 245.2h4.9v7.4h-4.9zM764.2 245.2h14.0v7.4h-14.0zM930.9 245.2h4.8v7.4h-4.8zM654.2 252.4h4.9v7.4h-4.9zM695.6 252.4h4.9v7.4h-4.9zM736.8 252.4h4.9v7.4h-4.9zM777.9 252.4h4.8v7.4h-4.8zM818.7 252.4h4.8v7.4h-4.8zM832.2 252.4h4.8v7.4h-4.8zM695.6 259.5h4.9v7.4h-4.9zM727.7 259.5h14.0v7.4h-14.0zM759.7 259.5h4.9v7.4h-4.9zM786.9 259.5h9.4v7.4h-9.4zM818.7 259.5h4.8v7.4h-4.8zM832.2 259.5h9.3v7.4h-9.3zM681.8 266.7h4.9v7.4h-4.9zM691.0 266.7h4.9v7.4h-4.9zM709.4 266.7h4.9v7.4h-4.9zM727.7 266.7h14.0v7.4h-14.0zM759.7 266.7h4.9v7.4h-4.9zM791.5 266.7h4.8v7.4h-4.8zM836.7 266.7h4.8v7.4h-4.8zM886.2 266.7h4.8v7.4h-4.8zM681.8 273.8h4.9v7.4h-4.9zM691.0 273.8h4.9v7.4h-4.9zM709.4 273.8h4.9v7.4h-4.9zM718.5 273.8h4.9v7.4h-4.9zM732.3 273.8h9.4v7.4h-9.4zM768.8 273.8h9.4v7.4h-9.4zM786.9 273.8h4.8v7.4h-4.8zM854.8 273.8h4.8v7.4h-4.8zM886.2 273.8h4.8v7.4h-4.8zM631.0 281.0h9.6v7.4h-9.6zM681.8 281.0h4.9v7.4h-4.9zM700.2 281.0h9.5v7.4h-9.5zM718.5 281.0h9.5v7.4h-9.5zM759.7 281.0h4.9v7.4h-4.9zM786.9 281.0h4.8v7.4h-4.8zM805.1 281.0h4.8v7.4h-4.8zM845.8 281.0h4.8v7.4h-4.8zM854.8 281.0h4.8v7.4h-4.8zM863.8 281.0h9.3v7.4h-9.3zM877.2 281.0h9.3v7.4h-9.3zM899.6 281.0h4.8v7.4h-4.8zM917.5 281.0h4.8v7.4h-4.8zM930.9 281.0h4.8v7.4h-4.8zM654.2 288.1h4.9v7.4h-4.9zM704.8 288.1h4.9v7.4h-4.9zM791.5 288.1h4.8v7.4h-4.8zM800.6 288.1h9.4v7.4h-9.4zM823.2 288.1h13.8v7.4h-13.8zM845.8 288.1h13.8v7.4h-13.8zM863.8 288.1h27.2v7.4h-27.2zM895.2 288.1h4.8v7.4h-4.8zM904.1 288.1h9.2v7.4h-9.2zM917.5 288.1h4.8v7.4h-4.8zM926.4 288.1h9.2v7.4h-9.2zM939.8 288.1h4.7v7.4h-4.7zM644.9 295.3h4.9v7.4h-4.9zM791.5 295.3h9.4v7.4h-9.4zM886.2 295.3h4.8v7.4h-4.8zM935.4 295.3h4.8v7.4h-4.8zM640.3 302.4h14.2v7.4h-14.2zM631.0 309.6h9.6v7.4h-9.6zM654.2 309.6h4.9v7.4h-4.9zM654.2 316.7h4.9v7.4h-4.9zM668.0 316.7h9.5v7.4h-9.5zM658.8 323.9h4.9v7.4h-4.9zM654.2 331.0h4.9v7.4h-4.9zM663.4 331.0h4.9v7.4h-4.9zM672.6 331.0h4.9v7.4h-4.9zM631.0 338.2h18.8v7.4h-18.8zM658.8 338.2h4.9v7.4h-4.9zM668.0 338.2h14.1v7.4h-14.1z"/>
<path fill="#0042ff" d="M631.0 223.8h9.6v7.4h-9.6zM672.6 223.8h4.9v7.4h-4.9zM686.4 223.8h9.5v7.4h-9.5zM818.7 223.8h9.3v7.4h-9.3zM872.7 223.8h9.3v7.4h-9.3zM732.3 245.2h4.9v7.4h-4.9zM750.5 245.2h4.9v7.4h-4.9zM777.9 245.2h4.8v7.4h-4.8zM727.7 252.4h9.4v7.4h-9.4zM750.5 252.4h4.9v7.4h-4.9zM759.7 252.4h14.0v7.4h-14.0zM782.4 252.4h4.8v7.4h-4.8zM718.5 259.5h4.9v7.4h-4.9zM750.5 259.5h9.4v7.4h-9.4zM773.3 259.5h4.8v7.4h-4.8zM718.5 266.7h4.9v7.4h-4.9zM741.4 266.7h4.9v7.4h-4.9zM750.5 266.7h9.4v7.4h-9.4zM764.2 266.7h14.0v7.4h-14.0zM786.9 266.7h4.8v7.4h-4.8zM714.0 273.8h4.9v7.4h-4.9zM723.1 273.8h9.5v7.4h-9.5zM741.4 273.8h4.9v7.4h-4.9zM750.5 273.8h18.5v7.4h-18.5zM686.4 281.0h4.9v7.4h-4.9zM709.4 281.0h9.5v7.4h-9.5zM727.7 281.0h4.9v7.4h-4.9zM736.8 281.0h9.4v7.4h-9.4zM755.1 281.0h4.9v7.4h-4.9zM681.8 288.1h14.1v7.4h-14.1zM714.0 288.1h4.9v7.4h-4.9zM786.9 288.1h4.8v7.4h-4.8zM796.0 288.1h4.8v7.4h-4.8zM899.6 288.1h4.8v7.4h-4.8zM913.1 288.1h4.8v7.4h-4.8zM922.0 288.1h4.8v7.4h-4.8zM686.4 295.3h4.9v7.4h-4.9zM700.2 295.3h4.9v7.4h-4.9zM800.6 295.3h27.5v7.4h-27.5zM832.2 295.3h9.3v7.4h-9.3zM845.8 295.3h40.8v7.4h-40.8zM890.7 295.3h45.0v7.4h-45.0zM939.8 295.3h9.2v7.4h-9.2zM672.6 302.4h4.9v7.4h-4.9zM640.3 309.6h9.5v7.4h-9.5zM668.0 309.6h9.5v7.4h-9.5zM631.0 316.7h9.6v7.4h-9.6zM649.5 316.7h4.9v7.4h-4.9zM631.0 323.9h14.2v7.4h-14.2zM668.0 323.9h4.9v7.4h-4.9zM631.0 331.0h9.6v7.4h-9.6zM649.5 331.0h4.9v7.4h-4.9zM668.0 331.0h4.9v7.4h-4.9zM649.5 338.2h9.5v7.4h-9.5zM663.4 338.2h4.9v7.4h-4.9zM677.2 345.3h4.9v7.4h-4.9zM658.8 352.5h14.1v7.4h-14.1zM681.8 352.5h4.9v7.4h-4.9z"/>
<path fill="#0094ff" d="M777.9 259.5h9.4v7.4h-9.4zM777.9 266.7h4.8v7.4h-4.8zM777.9 273.8h4.8v7.4h-4.8zM732.3 281.0h4.9v7.4h-4.9zM750.5 281.0h4.9v7.4h-4.9zM764.2 281.0h18.5v7.4h-18.5zM695.6 288.1h9.5v7.4h-9.5zM709.4 288.1h4.9v7.4h-4.9zM736.8 288.1h4.9v7.4h-4.9zM746.0 288.1h4.9v7.4h-4.9zM773.3 288.1h4.8v7.4h-4.8zM681.8 295.3h4.9v7.4h-4.9zM691.0 295.3h9.5v7.4h-9.5zM704.8 295.3h4.9v7.4h-4.9zM827.7 295.3h4.8v7.4h-4.8zM841.2 295.3h4.8v7.4h-4.8zM791.5 302.4h4.8v7.4h-4.8zM809.6 302.4h13.9v7.4h-13.9zM827.7 302.4h4.8v7.4h-4.8zM850.3 302.4h4.8v7.4h-4.8zM863.8 302.4h4.8v7.4h-4.8zM881.7 302.4h9.3v7.4h-9.3zM895.2 302.4h4.8v7.4h-4.8zM926.4 302.4h4.8v7.4h-4.8zM939.8 302.4h9.2v7.4h-9.2zM644.9 323.9h14.2v7.4h-14.2zM640.3 345.3h4.9v7.4h-4.9zM649.5 345.3h28.0v7.4h-28.0zM640.3 352.5h18.8v7.4h-18.8zM672.6 352.5h9.5v7.4h-9.5zM686.4 352.5h14.1v7.4h-14.1z"/>
<path fill="#00e5f7" d="M782.4 266.7h4.8v7.4h-4.8zM782.4 273.8h4.8v7.4h-4.8zM718.5 288.1h18.6v7.4h-18.6zM741.4 288.1h4.9v7.4h-4.9zM750.5 288.1h14.0v7.4h-14.0zM768.8 288.1h4.9v7.4h-4.9zM709.4 295.3h9.5v7.4h-9.5zM727.7 295.3h4.9v7.4h-4.9zM736.8 295.3h4.9v7.4h-4.9zM786.9 295.3h4.8v7.4h-4.8zM709.4 302.4h4.9v7.4h-4.9zM786.9 302.4h4.8v7.4h-4.8zM796.0 302.4h13.9v7.4h-13.9zM823.2 302.4h4.8v7.4h-4.8zM832.2 302.4h18.3v7.4h-18.3zM854.8 302.4h9.3v7.4h-9.3zM868.3 302.4h4.8v7.4h-4.8zM877.2 302.4h4.8v7.4h-4.8zM890.7 302.4h4.8v7.4h-4.8zM899.6 302.4h27.1v7.4h-27.1zM930.9 302.4h9.2v7.4h-9.2zM814.1 309.6h4.8v7.4h-4.8zM823.2 309.6h4.8v7.4h-4.8zM877.2 309.6h4.8v7.4h-4.8zM926.4 309.6h4.8v7.4h-4.8zM640.3 331.0h9.5v7.4h-9.5zM631.0 345.3h9.6v7.4h-9.6zM644.9 345.3h4.9v7.4h-4.9zM631.0 352.5h9.6v7.4h-9.6zM700.2 352.5h14.1v7.4h-14.1zM814.1 352.5h4.8v7.4h-4.8z"/>
<path fill="#31ffc5" d="M782.4 281.0h4.8v7.4h-4.8zM764.2 288.1h4.9v7.4h-4.9zM777.9 288.1h9.4v7.4h-9.4zM718.5 295.3h9.5v7.4h-9.5zM732.3 295.3h4.9v7.4h-4.9zM741.4 295.3h36.8v7.4h-36.8zM681.8 302.4h27.9v7.4h-27.9zM714.0 302.4h4.9v7.4h-4.9zM872.7 302.4h4.8v7.4h-4.8zM681.8 309.6h4.9v7.4h-4.9zM704.8 309.6h9.5v7.4h-9.5zM791.5 309.6h23.0v7.4h-23.0zM818.7 309.6h4.8v7.4h-4.8zM827.7 309.6h31.9v7.4h-31.9zM863.8 309.6h9.3v7.4h-9.3zM881.7 309.6h45.0v7.4h-45.0zM930.9 309.6h18.1v7.4h-18.1zM704.8 316.7h9.5v7.4h-9.5zM877.2 316.7h4.8v7.4h-4.8zM704.8 323.9h9.5v7.4h-9.5zM704.8 331.0h4.9v7.4h-4.9zM704.8 338.2h4.9v7.4h-4.9zM681.8 345.3h27.9v7.4h-27.9zM809.6 352.5h4.8v7.4h-4.8zM922.0 352.5h4.8v7.4h-4.8z"/>
<path fill="#63ff94" d="M777.9 295.3h9.4v7.4h-9.4zM736.8 302.4h4.9v7.4h-4.9zM686.4 309.6h18.7v7.4h-18.7zM714.0 309.6h4.9v7.4h-4.9zM786.9 309.6h4.8v7.4h-4.8zM859.3 309.6h4.8v7.4h-4.8zM681.8 316.7h9.5v7.4h-9.5zM714.0 316.7h4.9v7.4h-4.9zM791.5 316.7h68.1v7.4h-68.1zM863.8 316.7h9.3v7.4h-9.3zM881.7 316.7h67.3v7.4h-67.3zM681.8 323.9h4.9v7.4h-4.9zM805.1 323.9h4.8v7.4h-4.8zM681.8 331.0h4.9v7.4h-4.9zM709.4 331.0h4.9v7.4h-4.9zM681.8 338.2h4.9v7.4h-4.9zM709.4 338.2h4.9v7.4h-4.9zM709.4 345.3h4.9v7.4h-4.9zM714.0 352.5h4.9v7.4h-4.9zM796.0 352.5h13.9v7.4h-13.9zM818.7 352.5h9.3v7.4h-9.3zM899.6 352.5h4.8v7.4h-4.8zM917.5 352.5h4.8v7.4h-4.8zM926.4 352.5h18.1v7.4h-18.1z"/>
<path fill="#94ff63" d="M718.5 302.4h18.6v7.4h-18.6zM741.4 302.4h23.1v7.4h-23.1zM768.8 302.4h18.5v7.4h-18.5zM872.7 309.6h4.8v7.4h-4.8zM691.0 316.7h14.1v7.4h-14.1zM786.9 316.7h4.8v7.4h-4.8zM859.3 316.7h4.8v7.4h-4.8zM686.4 323.9h18.7v7.4h-18.7zM714.0 323.9h4.9v7.4h-4.9zM791.5 323.9h13.9v7.4h-13.9zM809.6 323.9h49.9v7.4h-49.9zM863.8 323.9h9.3v7.4h-9.3zM877.2 323.9h71.8v7.4h-71.8zM686.4 331.0h4.9v7.4h-4.9zM695.6 331.0h9.5v7.4h-9.5zM714.0 331.0h4.9v7.4h-4.9zM796.0 331.0h4.8v7.4h-4.8zM805.1 331.0h36.5v7.4h-36.5zM922.0 331.0h9.2v7.4h-9.2zM935.4 331.0h9.2v7.4h-9.2zM686.4 338.2h18.7v7.4h-18.7zM714.0 338.2h4.9v7.4h-4.9zM805.1 338.2h9.4v7.4h-9.4zM823.2 338.2h4.8v7.4h-4.8zM922.0 338.2h9.2v7.4h-9.2zM935.4 338.2h9.2v7.4h-9.2zM714.0 345.3h4.9v7.4h-4.9zM805.1 345.3h9.4v7.4h-9.4zM823.2 345.3h4.8v7.4h-4.8zM922.0 345.3h9.2v7.4h-9.2zM935.4 345.3h9.2v7.4h-9.2zM727.7 352.5h4.9v7.4h-4.9zM736.8 352.5h9.4v7.4h-9.4zM750.5 352.5h23.1v7.4h-23.1zM782.4 352.5h4.8v7.4h-4.8zM791.5 352.5h4.8v7.4h-4.8zM827.7 352.5h4.8v7.4h-4.8zM890.7 352.5h9.3v7.4h-9.3z"/>
<path fill="#c1ff35" d="M764.2 302.4h4.9v7.4h-4.9zM727.7 309.6h9.4v7.4h-9.4zM741.4 309.6h4.9v7.4h-4.9zM750.5 309.6h4.9v7.4h-4.9zM859.3 323.9h4.8v7.4h-4.8zM691.0 331.0h4.9v7.4h-4.9zM791.5 331.0h4.8v7.4h-4.8zM800.6 331.0h4.8v7.4h-4.8zM841.2 331.0h18.3v7.4h-18.3zM899.6 331.0h4.8v7.4h-4.8zM913.1 331.0h9.2v7.4h-9.2zM930.9 331.0h4.8v7.4h-4.8zM796.0 338.2h9.4v7.4h-9.4zM814.1 338.2h9.3v7.4h-9.3zM827.7 338.2h4.8v7.4h-4.8zM899.6 338.2h4.8v7.4h-4.8zM917.5 338.2h4.8v7.4h-4.8zM930.9 338.2h4.8v7.4h-4.8zM796.0 345.3h9.4v7.4h-9.4zM814.1 345.3h9.3v7.4h-9.3zM899.6 345.3h4.8v7.4h-4.8zM917.5 345.3h4.8v7.4h-4.8zM930.9 345.3h4.8v7.4h-4.8zM732.3 352.5h4.9v7.4h-4.9zM746.0 352.5h4.9v7.4h-4.9zM773.3 352.5h9.4v7.4h-9.4zM832.2 352.5h27.3v7.4h-27.3zM863.8 352.5h4.8v7.4h-4.8zM877.2 352.5h13.8v7.4h-13.8zM913.1 352.5h4.8v7.4h-4.8zM944.3 352.5h4.7v7.4h-4.7z"/>
<path fill="#f3fa04" d="M723.1 309.6h4.9v7.4h-4.9zM736.8 309.6h4.9v7.4h-4.9zM746.0 309.6h4.9v7.4h-4.9zM755.1 309.6h9.4v7.4h-9.4zM768.8 309.6h13.9v7.4h-13.9zM736.8 316.7h4.9v7.4h-4.9zM786.9 323.9h4.8v7.4h-4.8zM863.8 331.0h4.8v7.4h-4.8zM877.2 331.0h9.3v7.4h-9.3zM890.7 331.0h9.3v7.4h-9.3zM904.1 331.0h9.2v7.4h-9.2zM944.3 331.0h4.7v7.4h-4.7zM791.5 338.2h4.8v7.4h-4.8zM832.2 338.2h4.8v7.4h-4.8zM850.3 338.2h4.8v7.4h-4.8zM877.2 338.2h4.8v7.4h-4.8zM895.2 338.2h4.8v7.4h-4.8zM944.3 338.2h4.7v7.4h-4.7zM736.8 345.3h4.9v7.4h-4.9zM755.1 345.3h4.9v7.4h-4.9zM791.5 345.3h4.8v7.4h-4.8zM854.8 345.3h4.8v7.4h-4.8zM877.2 345.3h4.8v7.4h-4.8zM895.2 345.3h4.8v7.4h-4.8zM913.1 345.3h4.8v7.4h-4.8zM718.5 352.5h9.5v7.4h-9.5zM786.9 352.5h4.8v7.4h-4.8zM859.3 352.5h4.8v7.4h-4.8zM868.3 352.5h4.8v7.4h-4.8zM904.1 352.5h9.2v7.4h-9.2z"/>
<path fill="#ffb300" d="M718.5 309.6h4.9v7.4h-4.9zM764.2 309.6h4.9v7.4h-4.9zM723.1 316.7h4.9v7.4h-4.9zM732.3 316.7h4.9v7.4h-4.9zM741.4 316.7h4.9v7.4h-4.9zM750.5 316.7h9.4v7.4h-9.4zM764.2 316.7h4.9v7.4h-4.9zM872.7 316.7h4.8v7.4h-4.8zM718.5 323.9h4.9v7.4h-4.9zM736.8 323.9h9.4v7.4h-9.4zM750.5 323.9h4.9v7.4h-4.9zM718.5 331.0h4.9v7.4h-4.9zM736.8 331.0h4.9v7.4h-4.9zM750.5 331.0h4.9v7.4h-4.9zM859.3 331.0h4.8v7.4h-4.8zM868.3 331.0h4.8v7.4h-4.8zM886.2 331.0h4.8v7.4h-4.8zM718.5 338.2h4.9v7.4h-4.9zM736.8 338.2h4.9v7.4h-4.9zM750.5 338.2h4.9v7.4h-4.9zM764.2 338.2h4.9v7.4h-4.9zM836.7 338.2h13.8v7.4h-13.8zM854.8 338.2h4.8v7.4h-4.8zM863.8 338.2h4.8v7.4h-4.8zM890.7 338.2h4.8v7.4h-4.8zM908.6 338.2h9.2v7.4h-9.2zM718.5 345.3h9.5v7.4h-9.5zM732.3 345.3h4.9v7.4h-4.9zM741.4 345.3h4.9v7.4h-4.9zM750.5 345.3h4.9v7.4h-4.9zM759.7 345.3h14.0v7.4h-14.0zM827.7 345.3h13.8v7.4h-13.8zM845.8 345.3h9.3v7.4h-9.3zM863.8 345.3h4.8v7.4h-4.8zM886.2 345.3h9.3v7.4h-9.3zM944.3 345.3h4.7v7.4h-4.7zM872.7 352.5h4.8v7.4h-4.8z"/>
<path fill="#ff7100" d="M782.4 309.6h4.8v7.4h-4.8zM718.5 316.7h4.9v7.4h-4.9zM727.7 316.7h4.9v7.4h-4.9zM746.0 316.7h4.9v7.4h-4.9zM759.7 316.7h4.9v7.4h-4.9zM768.8 316.7h13.9v7.4h-13.9zM723.1 323.9h4.9v7.4h-4.9zM732.3 323.9h4.9v7.4h-4.9zM746.0 323.9h4.9v7.4h-4.9zM755.1 323.9h23.1v7.4h-23.1zM872.7 323.9h4.8v7.4h-4.8zM723.1 331.0h4.9v7.4h-4.9zM732.3 331.0h4.9v7.4h-4.9zM741.4 331.0h4.9v7.4h-4.9zM755.1 331.0h23.1v7.4h-23.1zM786.9 331.0h4.8v7.4h-4.8zM723.1 338.2h14.0v7.4h-14.0zM741.4 338.2h4.9v7.4h-4.9zM755.1 338.2h9.4v7.4h-9.4zM768.8 338.2h9.4v7.4h-9.4zM868.3 338.2h4.8v7.4h-4.8zM881.7 338.2h9.3v7.4h-9.3zM904.1 338.2h4.8v7.4h-4.8zM727.7 345.3h4.9v7.4h-4.9zM746.0 345.3h4.9v7.4h-4.9zM773.3 345.3h18.5v7.4h-18.5zM841.2 345.3h4.8v7.4h-4.8zM859.3 345.3h4.8v7.4h-4.8zM868.3 345.3h4.8v7.4h-4.8zM881.7 345.3h4.8v7.4h-4.8zM904.1 345.3h9.2v7.4h-9.2z"/>
<path fill="#ff2f00" d="M727.7 323.9h4.9v7.4h-4.9zM777.9 323.9h4.8v7.4h-4.8zM727.7 331.0h4.9v7.4h-4.9zM746.0 331.0h4.9v7.4h-4.9zM777.9 331.0h4.8v7.4h-4.8zM746.0 338.2h4.9v7.4h-4.9zM777.9 338.2h13.9v7.4h-13.9zM859.3 338.2h4.8v7.4h-4.8zM872.7 338.2h4.8v7.4h-4.8zM872.7 345.3h4.8v7.4h-4.8z"/>
<path fill="#d10000" d="M782.4 323.9h4.8v7.4h-4.8zM782.4 331.0h4.8v7.4h-4.8zM872.7 331.0h4.8v7.4h-4.8z"/>
<path fill="#800000" d="M782.4 316.7h4.8v7.4h-4.8z"/>
</g>
<path clip-path="url(#cL0)" d="M256.8,127.7L257.8,130.7L261.0,130.7L258.4,132.6L259.4,135.7L256.8,133.8L254.2,135.7L255.2,132.6L252.6,130.7L255.8,130.7zM261.4,130.2L262.4,133.2L265.6,133.2L263.0,135.1L264.0,138.1L261.4,136.2L258.8,138.1L259.8,135.1L257.2,133.2L260.4,133.2zM266.0,132.0L267.0,135.1L270.2,135.1L267.6,137.0L268.6,140.0L266.0,138.1L263.4,140.0L264.4,137.0L261.8,135.1L265.0,135.1zM270.6,134.0L271.6,137.0L274.8,137.0L272.2,138.9L273.2,141.9L270.6,140.0L268.0,141.9L269.0,138.9L266.4,137.0L269.6,137.0zM275.2,135.9L276.2,138.9L279.4,138.9L276.8,140.8L277.8,143.8L275.2,141.9L272.6,143.8L273.6,140.8L271.0,138.9L274.2,138.9zM279.8,137.4L280.8,140.4L284.0,140.4L281.4,142.3L282.4,145.4L279.8,143.5L277.2,145.4L278.2,142.3L275.6,140.4L278.8,140.4zM284.4,138.5L285.4,141.5L288.6,141.5L286.0,143.4L287.0,146.5L284.4,144.6L281.8,146.5L282.8,143.4L280.2,141.5L283.4,141.5zM289.0,139.6L290.0,142.6L293.2,142.6L290.6,144.5L291.6,147.5L289.0,145.7L286.4,147.5L287.4,144.5L284.8,142.6L288.0,142.6zM293.6,140.9L294.6,143.9L297.8,143.9L295.2,145.8L296.2,148.8L293.6,147.0L291.0,148.8L292.0,145.8L289.4,143.9L292.6,143.9zM298.2,142.6L299.2,145.6L302.4,145.6L299.8,147.5L300.8,150.5L298.2,148.6L295.6,150.5L296.6,147.5L294.0,145.6L297.2,145.6zM302.8,144.9L303.8,148.0L307.0,148.0L304.4,149.8L305.4,152.9L302.8,151.0L300.2,152.9L301.2,149.8L298.6,148.0L301.8,148.0zM307.4,147.7L308.4,150.8L311.6,150.8L309.0,152.7L310.0,155.7L307.4,153.8L304.8,155.7L305.8,152.7L303.2,150.8L306.4,150.8zM312.0,151.1L313.0,154.2L316.2,154.2L313.6,156.0L314.6,159.1L312.0,157.2L309.4,159.1L310.4,156.0L307.8,154.2L311.0,154.2zM316.6,154.6L317.6,157.6L320.8,157.6L318.2,159.5L319.2,162.6L316.6,160.7L314.0,162.6L315.0,159.5L312.4,157.6L315.6,157.6zM321.2,158.1L322.2,161.1L325.4,161.1L322.8,163.0L323.8,166.0L321.2,164.2L318.6,166.0L319.6,163.0L317.0,161.1L320.2,161.1zM325.8,161.3L326.8,164.3L330.0,164.3L327.4,166.2L328.4,169.3L325.8,167.4L323.2,169.3L324.2,166.2L321.6,164.3L324.8,164.3zM330.4,163.8L331.4,166.9L334.6,166.9L332.0,168.8L333.0,171.8L330.4,169.9L327.8,171.8L328.8,168.8L326.2,166.9L329.4,166.9zM335.0,165.3L336.0,168.4L339.2,168.4L336.6,170.3L337.6,173.3L335.0,171.4L332.4,173.3L333.4,170.3L330.8,168.4L334.0,168.4zM339.6,166.5L340.6,169.5L343.8,169.5L341.2,171.4L342.2,174.4L339.6,172.6L337.0,174.4L338.0,171.4L335.4,169.5L338.6,169.5zM344.2,167.3L345.2,170.3L348.4,170.3L345.8,172.2L346.8,175.2L344.2,173.4L341.6,175.2L342.6,172.2L340.0,170.3L343.2,170.3zM348.8,167.7L349.8,170.8L353.0,170.8L350.4,172.7L351.4,175.7L348.8,173.8L346.2,175.7L347.2,172.7L344.6,170.8L347.8,170.8zM353.4,167.9L354.4,170.9L357.6,170.9L355.0,172.8L356.0,175.9L353.4,174.0L350.8,175.9L351.8,172.8L349.2,170.9L352.4,170.9zM358.0,167.8L359.0,170.8L362.2,170.8L359.6,172.7L360.6,175.7L358.0,173.8L355.4,175.7L356.4,172.7L353.8,170.8L357.0,170.8zM362.6,167.5L363.6,170.5L366.8,170.5L364.2,172.4L365.2,175.5L362.6,173.6L360.0,175.5L361.0,172.4L358.4,170.5L361.6,170.5zM367.2,167.5L368.2,170.5L371.4,170.5L368.8,172.4L369.8,175.5L367.2,173.6L364.6,175.5L365.6,172.4L363.0,170.5L366.2,170.5z" fill="#0000ff" stroke="#0000ff" stroke-width="3.6" stroke-linejoin="round"/>
<path clip-path="url(#cR0)" d="M698.7,102.7L699.7,105.7L702.9,105.7L700.3,107.6L701.3,110.7L698.7,108.8L696.1,110.7L697.1,107.6L694.5,105.7L697.7,105.7zM703.3,102.7L704.3,105.7L707.5,105.7L704.9,107.6L705.9,110.7L703.3,108.8L700.7,110.7L701.7,107.6L699.1,105.7L702.3,105.7zM707.9,102.9L708.9,105.9L712.1,105.9L709.5,107.8L710.5,110.9L707.9,109.0L705.3,110.9L706.3,107.8L703.7,105.9L706.9,105.9zM712.5,105.1L713.5,108.2L716.7,108.2L714.1,110.1L715.1,113.1L712.5,111.2L709.9,113.1L710.9,110.1L708.3,108.2L711.5,108.2zM717.1,109.6L718.1,112.6L721.3,112.6L718.7,114.5L719.7,117.6L717.1,115.7L714.5,117.6L715.5,114.5L712.9,112.6L716.1,112.6zM721.7,114.8L722.7,117.9L725.9,117.9L723.3,119.7L724.3,122.8L721.7,120.9L719.1,122.8L720.1,119.7L717.5,117.9L720.7,117.9zM726.3,119.6L727.3,122.6L730.5,122.6L727.9,124.5L728.9,127.5L726.3,125.7L723.7,127.5L724.7,124.5L722.1,122.6L725.3,122.6zM730.9,124.2L731.9,127.2L735.1,127.2L732.5,129.1L733.5,132.2L730.9,130.3L728.3,132.2L729.3,129.1L726.7,127.2L729.9,127.2zM735.5,128.2L736.5,131.2L739.7,131.2L737.1,133.1L738.1,136.2L735.5,134.3L732.9,136.2L733.9,133.1L731.3,131.2L734.5,131.2zM740.1,132.7L741.1,135.7L744.3,135.7L741.7,137.6L742.7,140.7L740.1,138.8L737.5,140.7L738.5,137.6L735.9,135.7L739.1,135.7zM744.7,136.2L745.7,139.2L748.9,139.2L746.3,141.1L747.3,144.1L744.7,142.2L742.1,144.1L743.1,141.1L740.5,139.2L743.7,139.2zM749.3,139.9L750.3,143.0L753.5,143.0L750.9,144.9L751.9,147.9L749.3,146.0L746.7,147.9L747.7,144.9L745.1,143.0L748.3,143.0zM753.9,143.4L754.9,146.4L758.1,146.4L755.5,148.3L756.5,151.4L753.9,149.5L751.3,151.4L752.3,148.3L749.7,146.4L752.9,146.4zM758.5,146.7L759.5,149.7L762.7,149.7L760.1,151.6L761.1,154.6L758.5,152.7L755.9,154.6L756.9,151.6L754.3,149.7L757.5,149.7zM763.1,150.0L764.1,153.0L767.3,153.0L764.7,154.9L765.7,157.9L763.1,156.0L760.5,157.9L761.5,154.9L758.9,153.0L762.1,153.0zM767.7,153.3L768.7,156.3L771.9,156.3L769.3,158.2L770.3,161.2L767.7,159.3L765.1,161.2L766.1,158.2L763.5,156.3L766.7,156.3zM772.3,156.1L773.3,159.1L776.5,159.1L773.9,161.0L774.9,164.1L772.3,162.2L769.7,164.1L770.7,161.0L768.1,159.1L771.3,159.1zM776.9,158.3L777.9,161.3L781.1,161.3L778.5,163.2L779.5,166.2L776.9,164.3L774.3,166.2L775.3,163.2L772.7,161.3L775.9,161.3zM781.5,160.2L782.5,163.3L785.7,163.3L783.1,165.1L784.1,168.2L781.5,166.3L778.9,168.2L779.9,165.1L777.3,163.3L780.5,163.3zM786.1,161.8L787.1,164.8L790.3,164.8L787.7,166.7L788.7,169.8L786.1,167.9L783.5,169.8L784.5,166.7L781.9,164.8L785.1,164.8zM790.7,162.7L791.7,165.7L794.9,165.7L792.3,167.6L793.3,170.6L790.7,168.8L788.1,170.6L789.1,167.6L786.5,165.7L789.7,165.7zM795.3,163.1L796.3,166.1L799.5,166.1L796.9,168.0L797.9,171.0L795.3,169.2L792.7,171.0L793.7,168.0L791.1,166.1L794.3,166.1zM799.9,163.4L800.9,166.5L804.1,166.5L801.5,168.3L802.5,171.4L799.9,169.5L797.3,171.4L798.3,168.3L795.7,166.5L798.9,166.5zM804.5,163.6L805.5,166.6L808.7,166.6L806.1,168.5L807.1,171.6L804.5,169.7L801.9,171.6L802.9,168.5L800.3,166.6L803.5,166.6zM809.1,163.6L810.1,166.6L813.3,166.6L810.7,168.5L811.7,171.6L809.1,169.7L806.5,171.6L807.5,168.5L804.9,166.6L808.1,166.6zM813.7,163.6L814.7,166.6L817.9,166.6L815.3,168.5L816.3,171.6L813.7,169.7L811.1,171.6L812.1,168.5L809.5,166.6L812.7,166.6z" fill="#0000ff" stroke="#0000ff" stroke-width="3.6" stroke-linejoin="round"/>
<path d="M151.1 522.8V387.0M237.8 522.8V387.0M324.5 522.8V387.0M411.2 522.8V387.0M140.0 454.7H457.1" stroke="#b0b0b0" stroke-opacity="0.65" stroke-width="1.25" stroke-dasharray="5.0 2.5" fill="none"/>
<path d="M700.5 522.8V387.0M788.9 522.8V387.0M877.3 522.8V387.0M632.2 454.7H948.9" stroke="#b0b0b0" stroke-opacity="0.65" stroke-width="1.25" stroke-dasharray="5.0 2.5" fill="none"/>
<path d="M151.1 685.7V549.9M237.8 685.7V549.9M324.5 685.7V549.9M411.2 685.7V549.9M140.0 577.0H457.1M140.0 631.1H457.1" stroke="#b0b0b0" stroke-opacity="0.65" stroke-width="1.25" stroke-dasharray="5.0 2.5" fill="none"/>
<path d="M700.5 685.7V549.9M788.9 685.7V549.9M877.3 685.7V549.9M632.2 577.0H948.9M632.2 631.1H948.9" stroke="#b0b0b0" stroke-opacity="0.65" stroke-width="1.25" stroke-dasharray="5.0 2.5" fill="none"/>
<path d="M151.1 848.2V712.4M237.8 848.2V712.4M324.5 848.2V712.4M411.2 848.2V712.4M140.0 743.4H457.1M140.0 782.0H457.1M140.0 820.6H457.1" stroke="#b0b0b0" stroke-opacity="0.65" stroke-width="1.25" stroke-dasharray="5.0 2.5" fill="none"/>
<path d="M700.5 848.2V712.4M788.9 848.2V712.4M877.3 848.2V712.4M632.2 724.4H948.9M632.2 810.6H948.9" stroke="#b0b0b0" stroke-opacity="0.65" stroke-width="1.25" stroke-dasharray="5.0 2.5" fill="none"/>
<path clip-path="url(#cL2)" d="M256.8 454.0L270.2 300.0L275.4 494.2L275.4 503.1L270.2 428.7L256.8 498.6z" fill="#808080" fill-opacity="0.5" stroke="#808080" stroke-opacity="0.5" stroke-width="1.4" stroke-linejoin="round"/>
<path clip-path="url(#cL2)" d="M289.1 395.2L293.9 398.1L298.8 446.5L303.3 477.0L307.7 480.5L312.5 491.2L317.0 474.1L321.4 490.4L325.9 480.8L330.8 449.5L335.3 451.7L335.3 496.4L330.8 494.9L325.9 508.3L321.4 511.3L317.0 506.8L312.5 511.7L307.7 507.6L303.3 505.3L298.8 497.1L293.9 474.8L289.1 473.3z" fill="#808080" fill-opacity="0.5" stroke="#808080" stroke-opacity="0.5" stroke-width="1.4" stroke-linejoin="round"/>
<path d="M344.2 454.7V497.1" stroke="#808080" stroke-opacity="0.5" stroke-width="1.4"/>
<path clip-path="url(#cL2)" d="M256.8 487.2L270.2 413.5L275.4 493.2" fill="none" stroke="#1f77b4" stroke-width="2.35" stroke-linejoin="round" stroke-linecap="butt"/>
<path clip-path="url(#cL2)" d="M288.4 451.3L293.9 453.7L298.8 486.7L303.3 497.9L307.7 500.4L312.5 506.8L317.0 497.1L321.4 506.1L325.9 501.6L330.8 483.4L335.7 485.2" fill="none" stroke="#1f77b4" stroke-width="2.35" stroke-linejoin="round" stroke-linecap="butt"/>
<path clip-path="url(#cR2)" d="M708.1 478.9L713.8 484.2L717.5 501.0L721.9 504.3L726.2 498.3L730.9 505.4L735.6 502.7L740.2 504.3L744.3 480.9L748.9 497.6L753.6 510.3L758.3 509.0L763.0 505.0L767.4 505.9L772.0 511.7L776.4 508.3L780.4 497.9L785.1 498.4L789.8 500.3L789.8 514.4L785.1 513.4L780.4 513.0L776.4 517.0L772.0 518.8L767.4 516.6L763.0 515.7L758.3 517.4L753.6 518.4L748.9 513.0L744.3 504.3L740.2 516.1L735.6 515.0L730.9 516.1L726.2 513.0L721.9 516.1L717.5 514.4L712.8 508.3L708.1 506.3z" fill="#808080" fill-opacity="0.5" stroke="#808080" stroke-opacity="0.5" stroke-width="1.4" stroke-linejoin="round"/>
<path clip-path="url(#cR2)" d="M807.2 473.5L811.7 487.2L816.6 489.8L816.6 510.3L811.9 509.4L807.2 504.0z" fill="#808080" fill-opacity="0.5" stroke="#808080" stroke-opacity="0.5" stroke-width="1.4" stroke-linejoin="round"/>
<path clip-path="url(#cR2)" d="M707.8 497.9L712.8 501.4L717.5 510.7L721.9 513.0L726.2 509.4L730.9 513.4L735.6 512.3L740.2 513.4L744.3 499.2L748.9 509.4L753.6 516.4L758.3 515.0L763.0 513.3L767.4 514.4L772.0 517.0L776.4 514.8L780.4 509.4L785.1 509.7L790.5 510.5" fill="none" stroke="#1f77b4" stroke-width="2.35" stroke-linejoin="round" stroke-linecap="butt"/>
<path clip-path="url(#cR2)" d="M806.8 494.7L811.9 503.6L817.3 505.2" fill="none" stroke="#1f77b4" stroke-width="2.35" stroke-linejoin="round" stroke-linecap="butt"/>
<path clip-path="url(#cL3)" d="M260.8 603.9L266.5 597.7L270.8 616.7L275.5 621.6L280.1 616.7L284.7 601.3L289.3 591.3L293.7 573.5L298.3 605.9L302.9 582.8L307.5 570.9L312.5 569.7L316.8 586.6L321.4 559.6L326.0 588.5L330.7 594.6L334.8 605.4L339.4 595.9L343.6 598.2L347.9 602.0L357.2 594.6L362.1 603.9" fill="none" stroke="#000" stroke-width="2.35" stroke-linejoin="round" stroke-linecap="butt"/>
<path clip-path="url(#cR3)" d="M702.8 615.0L708.6 616.1L713.2 618.5L717.4 639.5L721.4 638.1L726.5 634.7L731.0 642.1L735.7 642.1L740.0 626.5L744.5 651.5L748.7 648.0L753.6 652.8L758.1 652.2L762.6 648.0L767.1 651.9L772.4 655.1" fill="none" stroke="#000" stroke-width="2.35" stroke-linejoin="round" stroke-linecap="butt"/>
<path clip-path="url(#cL4)" d="M260.6 780.7L362.9 780.7" fill="none" stroke="#1f77b4" stroke-width="2.35" stroke-linejoin="round" stroke-linecap="butt"/>
<path clip-path="url(#cR4)" d="M703.4 780.4L773.0 780.4" fill="none" stroke="#1f77b4" stroke-width="2.35" stroke-linejoin="round" stroke-linecap="butt"/>
<rect x="146.4" y="393.9" width="130.6" height="25.2" rx="2.9" fill="#fff" fill-opacity="0.8" stroke="#ccc" stroke-opacity="0.8" stroke-width="1.15"/>
<path d="M152.2 405.6H181.6" stroke="#1f77b4" stroke-width="2.16"/>
<text x="192.60" y="410.70" font-size="15.26" text-anchor="start" textLength="80.98" lengthAdjust="spacingAndGlyphs" fill="#000">d'=11.3 Re</text>
<rect x="638.4" y="393.9" width="130.6" height="25.2" rx="2.9" fill="#fff" fill-opacity="0.8" stroke="#ccc" stroke-opacity="0.8" stroke-width="1.15"/>
<path d="M644.2 405.6H673.6" stroke="#1f77b4" stroke-width="2.16"/>
<text x="684.60" y="410.70" font-size="15.26" text-anchor="start" textLength="80.98" lengthAdjust="spacingAndGlyphs" fill="#000">d'=14.4 Re</text>
<rect x="140.0" y="61.0" width="317.1" height="135.8" fill="none" stroke="#000" stroke-width="1.3"/>
<path d="M151.1 196.8v6.2M237.8 196.8v6.2M324.5 196.8v6.2M411.2 196.8v6.2" stroke="#000" stroke-width="1.3" fill="none"/>
<rect x="140.0" y="223.8" width="317.1" height="135.8" fill="none" stroke="#000" stroke-width="1.3"/>
<path d="M151.1 359.6v6.2M237.8 359.6v6.2M324.5 359.6v6.2M411.2 359.6v6.2" stroke="#000" stroke-width="1.3" fill="none"/>
<rect x="140.0" y="387.0" width="317.1" height="135.8" fill="none" stroke="#000" stroke-width="1.3"/>
<path d="M151.1 522.8v6.2M237.8 522.8v6.2M324.5 522.8v6.2M411.2 522.8v6.2" stroke="#000" stroke-width="1.3" fill="none"/>
<rect x="140.0" y="549.9" width="317.1" height="135.8" fill="none" stroke="#000" stroke-width="1.3"/>
<path d="M151.1 685.7v6.2M237.8 685.7v6.2M324.5 685.7v6.2M411.2 685.7v6.2" stroke="#000" stroke-width="1.3" fill="none"/>
<rect x="140.0" y="712.4" width="317.1" height="135.8" fill="none" stroke="#000" stroke-width="1.3"/>
<path d="M151.1 848.2v6.2M237.8 848.2v6.2M324.5 848.2v6.2M411.2 848.2v6.2" stroke="#000" stroke-width="1.3" fill="none"/>
<rect x="632.2" y="61.0" width="316.7" height="135.8" fill="none" stroke="#000" stroke-width="1.3"/>
<path d="M700.5 196.8v6.2M788.9 196.8v6.2M877.3 196.8v6.2" stroke="#000" stroke-width="1.3" fill="none"/>
<rect x="632.2" y="223.8" width="316.7" height="135.8" fill="none" stroke="#000" stroke-width="1.3"/>
<path d="M700.5 359.6v6.2M788.9 359.6v6.2M877.3 359.6v6.2" stroke="#000" stroke-width="1.3" fill="none"/>
<rect x="632.2" y="387.0" width="316.7" height="135.8" fill="none" stroke="#000" stroke-width="1.3"/>
<path d="M700.5 522.8v6.2M788.9 522.8v6.2M877.3 522.8v6.2" stroke="#000" stroke-width="1.3" fill="none"/>
<rect x="632.2" y="549.9" width="316.7" height="135.8" fill="none" stroke="#000" stroke-width="1.3"/>
<path d="M700.5 685.7v6.2M788.9 685.7v6.2M877.3 685.7v6.2" stroke="#000" stroke-width="1.3" fill="none"/>
<rect x="632.2" y="712.4" width="316.7" height="135.8" fill="none" stroke="#000" stroke-width="1.3"/>
<path d="M700.5 848.2v6.2M788.9 848.2v6.2M877.3 848.2v6.2" stroke="#000" stroke-width="1.3" fill="none"/>
<path d="M140.0 85.2h-6.2M140.0 171.1h-6.2" stroke="#000" stroke-width="1.3" fill="none"/>
<text x="127.60" y="92.20" font-size="18.34" text-anchor="end" textLength="76.81" lengthAdjust="spacingAndGlyphs" fill="#000">10.0 keV</text>
<text x="127.60" y="178.10" font-size="18.34" text-anchor="end" textLength="61.73" lengthAdjust="spacingAndGlyphs" fill="#000">100 eV</text>
<path d="M140.0 248.0h-6.2M140.0 333.9h-6.2" stroke="#000" stroke-width="1.3" fill="none"/>
<text x="127.60" y="255.00" font-size="18.34" text-anchor="end" textLength="76.81" lengthAdjust="spacingAndGlyphs" fill="#000">10.0 keV</text>
<text x="127.60" y="340.90" font-size="18.34" text-anchor="end" textLength="61.73" lengthAdjust="spacingAndGlyphs" fill="#000">100 eV</text>
<path d="M140.0 387.3h-6.2M140.0 454.7h-6.2M140.0 522.4h-6.2" stroke="#000" stroke-width="1.3" fill="none"/>
<text x="127.60" y="394.30" font-size="18.34" text-anchor="end" textLength="11.14" lengthAdjust="spacingAndGlyphs" fill="#000">2</text>
<text x="127.60" y="461.70" font-size="18.34" text-anchor="end" textLength="11.14" lengthAdjust="spacingAndGlyphs" fill="#000">1</text>
<text x="127.60" y="529.40" font-size="18.34" text-anchor="end" textLength="11.14" lengthAdjust="spacingAndGlyphs" fill="#000">0</text>
<path d="M140.0 577.0h-6.2M140.0 631.1h-6.2M140.0 685.4h-6.2" stroke="#000" stroke-width="1.3" fill="none"/>
<text x="127.60" y="584.00" font-size="18.34" text-anchor="end" textLength="11.14" lengthAdjust="spacingAndGlyphs" fill="#000">2</text>
<text x="127.60" y="638.10" font-size="18.34" text-anchor="end" textLength="11.14" lengthAdjust="spacingAndGlyphs" fill="#000">1</text>
<text x="127.60" y="692.40" font-size="18.34" text-anchor="end" textLength="11.14" lengthAdjust="spacingAndGlyphs" fill="#000">0</text>
<path d="M632.2 85.2h-6.2M632.2 171.1h-6.2" stroke="#000" stroke-width="1.3" fill="none"/>
<text x="619.80" y="92.20" font-size="18.34" text-anchor="end" textLength="76.81" lengthAdjust="spacingAndGlyphs" fill="#000">10.0 keV</text>
<text x="619.80" y="178.10" font-size="18.34" text-anchor="end" textLength="61.73" lengthAdjust="spacingAndGlyphs" fill="#000">100 eV</text>
<path d="M632.2 248.0h-6.2M632.2 333.9h-6.2" stroke="#000" stroke-width="1.3" fill="none"/>
<text x="619.80" y="255.00" font-size="18.34" text-anchor="end" textLength="76.81" lengthAdjust="spacingAndGlyphs" fill="#000">10.0 keV</text>
<text x="619.80" y="340.90" font-size="18.34" text-anchor="end" textLength="61.73" lengthAdjust="spacingAndGlyphs" fill="#000">100 eV</text>
<path d="M632.2 387.3h-6.2M632.2 454.7h-6.2M632.2 522.4h-6.2" stroke="#000" stroke-width="1.3" fill="none"/>
<text x="619.80" y="394.30" font-size="18.34" text-anchor="end" textLength="11.14" lengthAdjust="spacingAndGlyphs" fill="#000">2</text>
<text x="619.80" y="461.70" font-size="18.34" text-anchor="end" textLength="11.14" lengthAdjust="spacingAndGlyphs" fill="#000">1</text>
<text x="619.80" y="529.40" font-size="18.34" text-anchor="end" textLength="11.14" lengthAdjust="spacingAndGlyphs" fill="#000">0</text>
<path d="M632.2 577.0h-6.2M632.2 631.1h-6.2M632.2 685.4h-6.2" stroke="#000" stroke-width="1.3" fill="none"/>
<text x="619.80" y="584.00" font-size="18.34" text-anchor="end" textLength="11.14" lengthAdjust="spacingAndGlyphs" fill="#000">2</text>
<text x="619.80" y="638.10" font-size="18.34" text-anchor="end" textLength="11.14" lengthAdjust="spacingAndGlyphs" fill="#000">1</text>
<text x="619.80" y="692.40" font-size="18.34" text-anchor="end" textLength="11.14" lengthAdjust="spacingAndGlyphs" fill="#000">0</text>
<path d="M140.0 743.4h-6.2M140.0 782.0h-6.2M140.0 820.6h-6.2" stroke="#000" stroke-width="1.3" fill="none"/>
<text x="127.60" y="750.40" font-size="18.34" text-anchor="end" textLength="22.28" lengthAdjust="spacingAndGlyphs" fill="#000">33</text>
<text x="127.60" y="789.00" font-size="18.34" text-anchor="end" textLength="22.28" lengthAdjust="spacingAndGlyphs" fill="#000">32</text>
<text x="127.60" y="827.60" font-size="18.34" text-anchor="end" textLength="22.28" lengthAdjust="spacingAndGlyphs" fill="#000">31</text>
<path d="M632.2 724.4h-6.2M632.2 810.6h-6.2" stroke="#000" stroke-width="1.3" fill="none"/>
<text x="619.80" y="731.40" font-size="18.34" text-anchor="end" textLength="22.28" lengthAdjust="spacingAndGlyphs" fill="#000">75</text>
<text x="619.80" y="817.60" font-size="18.34" text-anchor="end" textLength="22.28" lengthAdjust="spacingAndGlyphs" fill="#000">70</text>
<text x="17.20" y="128.70" font-size="18.34" text-anchor="middle" textLength="102.95" lengthAdjust="spacingAndGlyphs" fill="#000" transform="rotate(-90 17.20 128.70)">Ions Energy</text>
<text x="38.90" y="131.00" font-size="18.34" text-anchor="middle" textLength="36.41" lengthAdjust="spacingAndGlyphs" fill="#000" transform="rotate(-90 38.90 131.00)">[eV]</text>
<text x="17.20" y="291.00" font-size="18.34" text-anchor="middle" textLength="147.79" lengthAdjust="spacingAndGlyphs" fill="#000" transform="rotate(-90 17.20 291.00)">Electrons Energy</text>
<text x="38.90" y="293.80" font-size="18.34" text-anchor="middle" textLength="36.41" lengthAdjust="spacingAndGlyphs" fill="#000" transform="rotate(-90 38.90 293.80)">[eV]</text>
<text x="65.60" y="457.10" font-size="18.34" text-anchor="middle" textLength="86.78" lengthAdjust="spacingAndGlyphs" fill="#000" transform="rotate(-90 65.60 457.10)">Lockwood</text>
<text x="84.60" y="455.00" font-size="18.34" text-anchor="middle" textLength="115.96" lengthAdjust="spacingAndGlyphs" fill="#000" transform="rotate(-90 84.60 455.00)">Reconn. Rate</text>
<text x="105.10" y="456.90" font-size="18.34" text-anchor="middle" textLength="65.65" lengthAdjust="spacingAndGlyphs" fill="#000" transform="rotate(-90 105.10 456.90)">[mV/m]</text>
<g transform="translate(61.5 644.0) rotate(-90)">
<rect x="0.4" y="-12.9" width="1.5" height="17.0"/><rect x="53.0" y="-12.9" width="1.5" height="17.0"/>
<text x="4.06" y="0.00" font-size="18.34" font-style="italic" textLength="8.70" lengthAdjust="spacingAndGlyphs">v</text>
<text x="19.00" y="2.60" font-size="21.70" textLength="12.67" lengthAdjust="spacingAndGlyphs">×</text>
<text x="37.30" y="0.00" font-size="18.34" font-style="italic" textLength="11.17" lengthAdjust="spacingAndGlyphs">B</text>
</g>
<text x="84.60" y="618.00" font-size="18.34" text-anchor="middle" textLength="115.96" lengthAdjust="spacingAndGlyphs" fill="#000" transform="rotate(-90 84.60 618.00)">Reconn. Rate</text>
<text x="105.10" y="619.70" font-size="18.34" text-anchor="middle" textLength="65.65" lengthAdjust="spacingAndGlyphs" fill="#000" transform="rotate(-90 105.10 619.70)">[mV/m]</text>
<g transform="translate(93.9 830.9) rotate(-90)" font-size="18.34">
<text x="0" y="0" textLength="84.2" lengthAdjust="spacingAndGlyphs">Observed</text>
<text x="89.88" y="0.00" font-size="18.34" font-style="italic" textLength="10.89" lengthAdjust="spacingAndGlyphs">α</text>
</g>
<text x="509.20" y="128.70" font-size="18.34" text-anchor="middle" textLength="102.95" lengthAdjust="spacingAndGlyphs" fill="#000" transform="rotate(-90 509.20 128.70)">Ions Energy</text>
<text x="530.90" y="131.00" font-size="18.34" text-anchor="middle" textLength="36.41" lengthAdjust="spacingAndGlyphs" fill="#000" transform="rotate(-90 530.90 131.00)">[eV]</text>
<text x="509.20" y="291.00" font-size="18.34" text-anchor="middle" textLength="147.79" lengthAdjust="spacingAndGlyphs" fill="#000" transform="rotate(-90 509.20 291.00)">Electrons Energy</text>
<text x="530.90" y="293.80" font-size="18.34" text-anchor="middle" textLength="36.41" lengthAdjust="spacingAndGlyphs" fill="#000" transform="rotate(-90 530.90 293.80)">[eV]</text>
<text x="557.60" y="457.10" font-size="18.34" text-anchor="middle" textLength="86.78" lengthAdjust="spacingAndGlyphs" fill="#000" transform="rotate(-90 557.60 457.10)">Lockwood</text>
<text x="576.60" y="455.00" font-size="18.34" text-anchor="middle" textLength="115.96" lengthAdjust="spacingAndGlyphs" fill="#000" transform="rotate(-90 576.60 455.00)">Reconn. Rate</text>
<text x="597.10" y="456.90" font-size="18.34" text-anchor="middle" textLength="65.65" lengthAdjust="spacingAndGlyphs" fill="#000" transform="rotate(-90 597.10 456.90)">[mV/m]</text>
<g transform="translate(553.5 644.0) rotate(-90)">
<rect x="0.4" y="-12.9" width="1.5" height="17.0"/><rect x="53.0" y="-12.9" width="1.5" height="17.0"/>
<text x="4.06" y="0.00" font-size="18.34" font-style="italic" textLength="8.70" lengthAdjust="spacingAndGlyphs">v</text>
<text x="19.00" y="2.60" font-size="21.70" textLength="12.67" lengthAdjust="spacingAndGlyphs">×</text>
<text x="37.30" y="0.00" font-size="18.34" font-style="italic" textLength="11.17" lengthAdjust="spacingAndGlyphs">B</text>
</g>
<text x="576.60" y="618.00" font-size="18.34" text-anchor="middle" textLength="115.96" lengthAdjust="spacingAndGlyphs" fill="#000" transform="rotate(-90 576.60 618.00)">Reconn. Rate</text>
<text x="597.10" y="619.70" font-size="18.34" text-anchor="middle" textLength="65.65" lengthAdjust="spacingAndGlyphs" fill="#000" transform="rotate(-90 597.10 619.70)">[mV/m]</text>
<g transform="translate(585.9 830.9) rotate(-90)" font-size="18.34">
<text x="0" y="0" textLength="84.2" lengthAdjust="spacingAndGlyphs">Observed</text>
<text x="89.88" y="0.00" font-size="18.34" font-style="italic" textLength="10.89" lengthAdjust="spacingAndGlyphs">α</text>
</g>
<text x="151.10" y="874.90" font-size="18.34" text-anchor="middle" textLength="38.98" lengthAdjust="spacingAndGlyphs" fill="#000">61.0</text>
<text x="151.10" y="895.90" font-size="18.34" text-anchor="middle" textLength="38.98" lengthAdjust="spacingAndGlyphs" fill="#000">5.35</text>
<text x="151.10" y="916.70" font-size="18.34" text-anchor="middle" textLength="55.31" lengthAdjust="spacingAndGlyphs" fill="#000">Mar23</text>
<text x="151.10" y="937.30" font-size="18.34" text-anchor="middle" textLength="78.63" lengthAdjust="spacingAndGlyphs" fill="#000">11:02:01</text>
<text x="237.80" y="874.90" font-size="18.34" text-anchor="middle" textLength="38.98" lengthAdjust="spacingAndGlyphs" fill="#000">62.0</text>
<text x="237.80" y="895.90" font-size="18.34" text-anchor="middle" textLength="38.98" lengthAdjust="spacingAndGlyphs" fill="#000">4.87</text>
<text x="237.80" y="916.70" font-size="18.34" text-anchor="middle" textLength="55.31" lengthAdjust="spacingAndGlyphs" fill="#000">Mar23</text>
<text x="237.80" y="937.30" font-size="18.34" text-anchor="middle" textLength="78.63" lengthAdjust="spacingAndGlyphs" fill="#000">19:13:53</text>
<text x="324.50" y="874.90" font-size="18.34" text-anchor="middle" textLength="38.98" lengthAdjust="spacingAndGlyphs" fill="#000">63.0</text>
<text x="324.50" y="895.90" font-size="18.34" text-anchor="middle" textLength="38.98" lengthAdjust="spacingAndGlyphs" fill="#000">8.45</text>
<text x="324.50" y="916.70" font-size="18.34" text-anchor="middle" textLength="55.31" lengthAdjust="spacingAndGlyphs" fill="#000">Mar23</text>
<text x="324.50" y="937.30" font-size="18.34" text-anchor="middle" textLength="78.63" lengthAdjust="spacingAndGlyphs" fill="#000">01:42:41</text>
<text x="411.20" y="874.90" font-size="18.34" text-anchor="middle" textLength="38.98" lengthAdjust="spacingAndGlyphs" fill="#000">64.0</text>
<text x="411.20" y="895.90" font-size="18.34" text-anchor="middle" textLength="50.12" lengthAdjust="spacingAndGlyphs" fill="#000">13.54</text>
<text x="411.20" y="916.70" font-size="18.34" text-anchor="middle" textLength="55.31" lengthAdjust="spacingAndGlyphs" fill="#000">Mar23</text>
<text x="411.20" y="937.30" font-size="18.34" text-anchor="middle" textLength="78.63" lengthAdjust="spacingAndGlyphs" fill="#000">03:07:40</text>
<text x="60.80" y="874.90" font-size="18.34" text-anchor="start" textLength="46.57" lengthAdjust="spacingAndGlyphs" fill="#000">MLAT</text>
<text x="60.80" y="895.90" font-size="18.34" text-anchor="start" textLength="33.14" lengthAdjust="spacingAndGlyphs" fill="#000">MLT</text>
<text x="60.80" y="916.70" font-size="18.34" text-anchor="start" textLength="42.85" lengthAdjust="spacingAndGlyphs" fill="#000">Time</text>
<text x="700.50" y="874.90" font-size="18.34" text-anchor="middle" textLength="38.98" lengthAdjust="spacingAndGlyphs" fill="#000">65.0</text>
<text x="700.50" y="895.90" font-size="18.34" text-anchor="middle" textLength="50.12" lengthAdjust="spacingAndGlyphs" fill="#000">13.40</text>
<text x="700.50" y="916.70" font-size="18.34" text-anchor="middle" textLength="55.31" lengthAdjust="spacingAndGlyphs" fill="#000">Mar24</text>
<text x="700.50" y="937.30" font-size="18.34" text-anchor="middle" textLength="78.63" lengthAdjust="spacingAndGlyphs" fill="#000">00:53:49</text>
<text x="788.90" y="874.90" font-size="18.34" text-anchor="middle" textLength="38.98" lengthAdjust="spacingAndGlyphs" fill="#000">66.0</text>
<text x="788.90" y="895.90" font-size="18.34" text-anchor="middle" textLength="38.98" lengthAdjust="spacingAndGlyphs" fill="#000">5.78</text>
<text x="788.90" y="916.70" font-size="18.34" text-anchor="middle" textLength="55.31" lengthAdjust="spacingAndGlyphs" fill="#000">Mar24</text>
<text x="788.90" y="937.30" font-size="18.34" text-anchor="middle" textLength="78.63" lengthAdjust="spacingAndGlyphs" fill="#000">00:18:45</text>
<text x="877.30" y="874.90" font-size="18.34" text-anchor="middle" textLength="38.98" lengthAdjust="spacingAndGlyphs" fill="#000">67.0</text>
<text x="877.30" y="895.90" font-size="18.34" text-anchor="middle" textLength="50.12" lengthAdjust="spacingAndGlyphs" fill="#000">13.28</text>
<text x="877.30" y="916.70" font-size="18.34" text-anchor="middle" textLength="55.31" lengthAdjust="spacingAndGlyphs" fill="#000">Mar24</text>
<text x="877.30" y="937.30" font-size="18.34" text-anchor="middle" textLength="78.63" lengthAdjust="spacingAndGlyphs" fill="#000">00:07:00</text>
<text x="552.80" y="874.90" font-size="18.34" text-anchor="start" textLength="46.57" lengthAdjust="spacingAndGlyphs" fill="#000">MLAT</text>
<text x="552.80" y="895.90" font-size="18.34" text-anchor="start" textLength="33.14" lengthAdjust="spacingAndGlyphs" fill="#000">MLT</text>
<text x="552.80" y="916.70" font-size="18.34" text-anchor="start" textLength="42.85" lengthAdjust="spacingAndGlyphs" fill="#000">Time</text>
<rect x="968.6" y="61.0" width="7.0" height="135.8" fill="url(#jet)" stroke="#000" stroke-width="1.1"/>
<path d="M975.8 61.0h6.0" stroke="#000" stroke-width="1.3" fill="none"/>
<text x="988.20" y="67.60" font-size="18.34" text-anchor="start" textLength="22.28" lengthAdjust="spacingAndGlyphs" fill="#000">10</text>
<text x="1011.08" y="61.00" font-size="12.84" text-anchor="start" textLength="7.80" lengthAdjust="spacingAndGlyphs" fill="#000">8</text>
<path d="M975.8 115.3h6.0" stroke="#000" stroke-width="1.3" fill="none"/>
<text x="988.20" y="121.90" font-size="18.34" text-anchor="start" textLength="22.28" lengthAdjust="spacingAndGlyphs" fill="#000">10</text>
<text x="1011.08" y="115.30" font-size="12.84" text-anchor="start" textLength="7.80" lengthAdjust="spacingAndGlyphs" fill="#000">6</text>
<path d="M975.8 169.6h6.0" stroke="#000" stroke-width="1.3" fill="none"/>
<text x="988.20" y="176.20" font-size="18.34" text-anchor="start" textLength="22.28" lengthAdjust="spacingAndGlyphs" fill="#000">10</text>
<text x="1011.08" y="169.60" font-size="12.84" text-anchor="start" textLength="7.80" lengthAdjust="spacingAndGlyphs" fill="#000">4</text>
<text x="1039.00" y="129.00" font-size="18.34" text-anchor="middle" textLength="103.25" lengthAdjust="spacingAndGlyphs" fill="#000" transform="rotate(-90 1039.00 129.00)">Energy Flux</text>
<rect x="968.6" y="223.8" width="7.0" height="135.8" fill="url(#jet)" stroke="#000" stroke-width="1.1"/>
<path d="M975.8 251.0h6.0" stroke="#000" stroke-width="1.3" fill="none"/>
<text x="988.20" y="257.60" font-size="18.34" text-anchor="start" textLength="22.28" lengthAdjust="spacingAndGlyphs" fill="#000">10</text>
<text x="1011.08" y="251.00" font-size="12.84" text-anchor="start" textLength="7.80" lengthAdjust="spacingAndGlyphs" fill="#000">9</text>
<path d="M975.8 305.3h6.0" stroke="#000" stroke-width="1.3" fill="none"/>
<text x="988.20" y="311.90" font-size="18.34" text-anchor="start" textLength="22.28" lengthAdjust="spacingAndGlyphs" fill="#000">10</text>
<text x="1011.08" y="305.30" font-size="12.84" text-anchor="start" textLength="7.80" lengthAdjust="spacingAndGlyphs" fill="#000">7</text>
<path d="M975.8 359.5h6.0" stroke="#000" stroke-width="1.3" fill="none"/>
<text x="988.20" y="366.10" font-size="18.34" text-anchor="start" textLength="22.28" lengthAdjust="spacingAndGlyphs" fill="#000">10</text>
<text x="1011.08" y="359.50" font-size="12.84" text-anchor="start" textLength="7.80" lengthAdjust="spacingAndGlyphs" fill="#000">5</text>
<text x="1039.00" y="291.80" font-size="18.34" text-anchor="middle" textLength="103.25" lengthAdjust="spacingAndGlyphs" fill="#000" transform="rotate(-90 1039.00 291.80)">Energy Flux</text>
</svg></body></html>
